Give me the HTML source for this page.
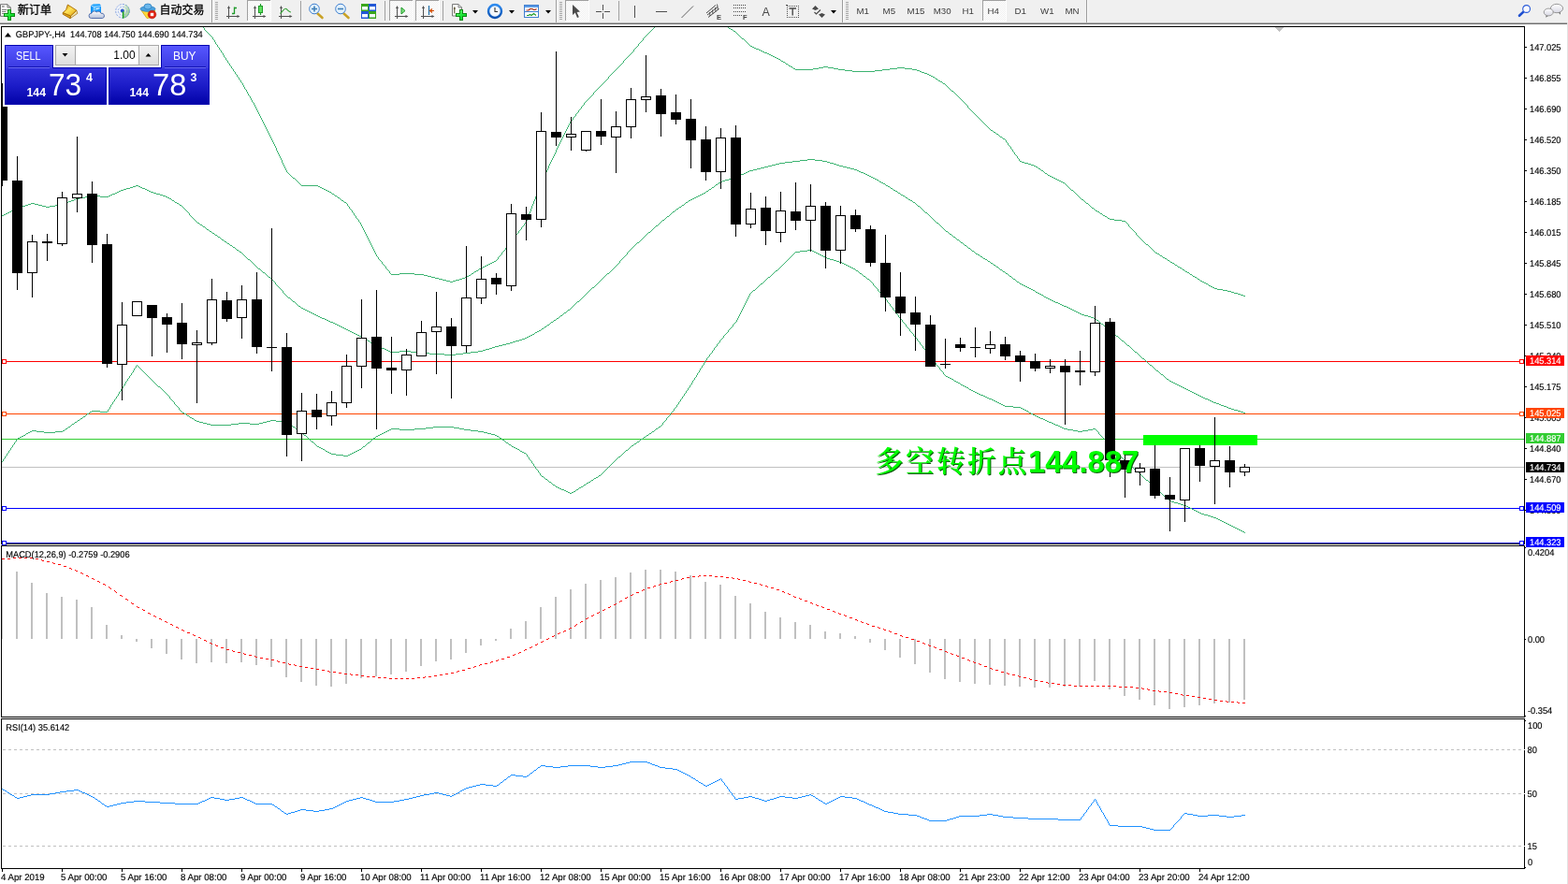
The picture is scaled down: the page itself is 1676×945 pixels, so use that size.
<!DOCTYPE html>
<html><head><meta charset="utf-8"><title>GBPJPY-,H4</title>
<style>
html,body{margin:0;padding:0;background:#fff;}
body{width:1676px;height:945px;position:relative;overflow:hidden;font-family:'Liberation Sans','Noto Sans CJK SC',sans-serif;}
#tb{position:absolute;left:0;top:0;width:1676px;height:24px;background:#f0f0f0;}
#tbl1{position:absolute;left:0;top:24px;width:1676px;height:1px;background:#b4b4b4;}
#tbl2{position:absolute;left:0;top:25px;width:1676px;height:1px;background:#6e6e6e;}

#tb svg{position:absolute;left:0;top:0;}
#tb .t{position:absolute;top:0;height:24px;line-height:22px;font-size:12px;color:#000;-webkit-text-stroke:0.3px #000;white-space:nowrap;font-family:'Liberation Sans','Noto Sans CJK SC',sans-serif;}
#tb .tf{position:absolute;top:0;height:24px;line-height:24.3px;font-size:9.7px;color:#3c3c3c;white-space:nowrap;font-family:'Liberation Sans',sans-serif;}

#tp{position:absolute;left:0;top:0;width:230px;height:114px;}
#tp div{position:absolute;box-sizing:border-box;}
#tp .tab{top:48px;height:25px;background:linear-gradient(#5656ff,#3a3ae0);border:1px solid #0404b0;border-bottom:none;}
#tp .big{top:72px;height:40px;background:linear-gradient(#3232dc,#1c1cc8 50%,#0202a8);border:1px solid #0404b0;border-top:none}
#tp .ul{top:71px;height:2px;background:linear-gradient(#1414b4 50%,#6a6af4 50%);}
#tp .w{color:#fff;white-space:nowrap;font-family:'Liberation Sans',sans-serif;line-height:1;transform-origin:0 0;}
#tp .btn{top:48px;height:22px;width:22px;background:linear-gradient(#f2f2f2,#dedede);border:1px solid #a8a8a8;}
#tp .inp{top:48px;height:22px;left:80px;width:69px;background:#fff;border-top:1px solid #a8a8a8;border-bottom:1px solid #a8a8a8;}

</style></head><body>
<div id="tb"><svg width="1676" height="24" viewBox="0 0 1676 24"><defs><pattern id="dz" width="2" height="2" patternUnits="userSpaceOnUse"><rect width="2" height="2" fill="#ffffff"/><rect width="1" height="1" fill="#f0f0f0"/><rect x="1" y="1" width="1" height="1" fill="#f0f0f0"/></pattern></defs><g shape-rendering="crispEdges"><rect x="226" y="0" width="1" height="24" fill="#9c9c9c"/><rect x="227" y="0" width="1" height="24" fill="#fcfcfc"/><rect x="230" y="2" width="3" height="1" fill="#a6a6a6"/><rect x="230" y="4" width="3" height="1" fill="#a6a6a6"/><rect x="230" y="6" width="3" height="1" fill="#a6a6a6"/><rect x="230" y="8" width="3" height="1" fill="#a6a6a6"/><rect x="230" y="10" width="3" height="1" fill="#a6a6a6"/><rect x="230" y="12" width="3" height="1" fill="#a6a6a6"/><rect x="230" y="14" width="3" height="1" fill="#a6a6a6"/><rect x="230" y="16" width="3" height="1" fill="#a6a6a6"/><rect x="230" y="18" width="3" height="1" fill="#a6a6a6"/><rect x="230" y="20" width="3" height="1" fill="#a6a6a6"/><rect x="321" y="1" width="1" height="21" fill="#a0a0a0"/><rect x="411" y="1" width="1" height="21" fill="#a0a0a0"/><rect x="473" y="1" width="1" height="21" fill="#a0a0a0"/><rect x="594" y="0" width="1" height="24" fill="#9c9c9c"/><rect x="595" y="0" width="1" height="24" fill="#fcfcfc"/><rect x="598" y="2" width="3" height="1" fill="#a6a6a6"/><rect x="598" y="4" width="3" height="1" fill="#a6a6a6"/><rect x="598" y="6" width="3" height="1" fill="#a6a6a6"/><rect x="598" y="8" width="3" height="1" fill="#a6a6a6"/><rect x="598" y="10" width="3" height="1" fill="#a6a6a6"/><rect x="598" y="12" width="3" height="1" fill="#a6a6a6"/><rect x="598" y="14" width="3" height="1" fill="#a6a6a6"/><rect x="598" y="16" width="3" height="1" fill="#a6a6a6"/><rect x="598" y="18" width="3" height="1" fill="#a6a6a6"/><rect x="598" y="20" width="3" height="1" fill="#a6a6a6"/><rect x="661" y="1" width="1" height="21" fill="#a0a0a0"/><rect x="900" y="0" width="1" height="24" fill="#9c9c9c"/><rect x="901" y="0" width="1" height="24" fill="#fcfcfc"/><rect x="904" y="2" width="3" height="1" fill="#a6a6a6"/><rect x="904" y="4" width="3" height="1" fill="#a6a6a6"/><rect x="904" y="6" width="3" height="1" fill="#a6a6a6"/><rect x="904" y="8" width="3" height="1" fill="#a6a6a6"/><rect x="904" y="10" width="3" height="1" fill="#a6a6a6"/><rect x="904" y="12" width="3" height="1" fill="#a6a6a6"/><rect x="904" y="14" width="3" height="1" fill="#a6a6a6"/><rect x="904" y="16" width="3" height="1" fill="#a6a6a6"/><rect x="904" y="18" width="3" height="1" fill="#a6a6a6"/><rect x="904" y="20" width="3" height="1" fill="#a6a6a6"/><rect x="1161" y="0" width="1" height="24" fill="#9c9c9c"/><rect x="1162" y="0" width="1" height="24" fill="#fcfcfc"/><rect x="264" y="0" width="25" height="22" fill="url(#dz)" shape-rendering="crispEdges"/><rect x="264" y="0" width="25" height="1" fill="#a0a0a0"/><rect x="264" y="0" width="1" height="22" fill="#a0a0a0"/><rect x="289" y="1" width="1" height="21" fill="#fff"/><rect x="264" y="22" width="26" height="1" fill="#fff"/><rect x="416" y="0" width="25" height="22" fill="url(#dz)" shape-rendering="crispEdges"/><rect x="416" y="0" width="25" height="1" fill="#a0a0a0"/><rect x="416" y="0" width="1" height="22" fill="#a0a0a0"/><rect x="441" y="1" width="1" height="21" fill="#fff"/><rect x="416" y="22" width="26" height="1" fill="#fff"/><rect x="444" y="0" width="25" height="22" fill="url(#dz)" shape-rendering="crispEdges"/><rect x="444" y="0" width="25" height="1" fill="#a0a0a0"/><rect x="444" y="0" width="1" height="22" fill="#a0a0a0"/><rect x="469" y="1" width="1" height="21" fill="#fff"/><rect x="444" y="22" width="26" height="1" fill="#fff"/><rect x="604" y="0" width="25" height="22" fill="url(#dz)" shape-rendering="crispEdges"/><rect x="604" y="0" width="25" height="1" fill="#a0a0a0"/><rect x="604" y="0" width="1" height="22" fill="#a0a0a0"/><rect x="629" y="1" width="1" height="21" fill="#fff"/><rect x="604" y="22" width="26" height="1" fill="#fff"/><rect x="1050" y="0" width="25" height="22" fill="url(#dz)" shape-rendering="crispEdges"/><rect x="1050" y="0" width="25" height="1" fill="#a0a0a0"/><rect x="1050" y="0" width="1" height="22" fill="#a0a0a0"/><rect x="1075" y="1" width="1" height="21" fill="#fff"/><rect x="1050" y="22" width="26" height="1" fill="#fff"/></g><defs><linearGradient id="gd" x1="0" y1="0" x2="1" y2="1"><stop offset="0" stop-color="#c98a00"/><stop offset="0.45" stop-color="#ffe35a"/><stop offset="1" stop-color="#e0a208"/></linearGradient><linearGradient id="bl" x1="0" y1="0" x2="1" y2="0"><stop offset="0" stop-color="#0a8cf0"/><stop offset="0.35" stop-color="#35b0ff"/><stop offset="1" stop-color="#0f96ff"/></linearGradient><linearGradient id="cl" x1="0" y1="0" x2="0" y2="1"><stop offset="0" stop-color="#ffffff"/><stop offset="1" stop-color="#b4c0da"/></linearGradient><linearGradient id="pg" x1="0" y1="0" x2="1" y2="1"><stop offset="0" stop-color="#8cff8c"/><stop offset="0.5" stop-color="#1fe83a"/><stop offset="1" stop-color="#00c81e"/></linearGradient><radialGradient id="ck"><stop offset="0" stop-color="#fff"/><stop offset="0.7" stop-color="#eef4fb"/><stop offset="1" stop-color="#c9dcf2"/></radialGradient></defs><path d="M0.5 4.700 H8 L11.300 8 V17.300 H0.500 Z" fill="#ffffff" stroke="#6e6e6e"/><path d="M8 4.700 V8 H11.300" fill="none" stroke="#6e6e6e"/><rect x="2" y="6.300" width="2.700" height="1.300" fill="#7a7a7a"/><path d="M2 10.500 H7.500 M2 12.500 H6.500 M2 14.500 H5" stroke="#808080" fill="none"/><path d="M8 10 h4 v4 h4 v4 h-4 v4 h-4 v-4 h-4 v-4 h4 z" fill="#0b8a14"/><path d="M9 11 h2 v4 h4 v2 h-4 v4 h-2 v-4 h-4 v-2 h4 z" fill="url(#pg)"/><path d="M75.500 17 L81.800 11.100 L82.900 14.300 L75 19.700 Z" fill="#efe2a8" stroke="#a87a20" stroke-width="0.8"/><path d="M67.200 13.500 L75.500 17 L75 19.700 L67.200 15.200 Z" fill="#e0a818" stroke="#9a6000" stroke-width="0.8"/><path d="M72.400 5 L81.800 11.100 L75.500 17 L67.200 13.500 L70.600 10.500 Z" fill="url(#gd)" stroke="#a86a00" stroke-width="0.9"/><path d="M97 6 L100 4.300 L106.500 4.300 L108 6 V14 H97 Z" fill="url(#bl)"/><path d="M97.300 6 L100.800 7.500 V14 M100.800 7.500 L108 6.500" stroke="#d6efff" stroke-width="0.8" fill="none"/><path d="M102.500 9.600 L106.500 8.700" stroke="#ffffff" stroke-width="1.1"/><path d="M97.500 19.500 A2.600 2.600 0 0 1 97.800 14.300 A3.200 3.200 0 0 1 103.200 12.900 A3 3 0 0 1 108 14.300 A2.700 2.700 0 0 1 109.500 19.500 Z" fill="url(#cl)" stroke="#4a66a6" stroke-width="0.9"/><defs><radialGradient id="sg" cx="0.3" cy="0.3" r="0.9"><stop offset="0" stop-color="#eaf4e6"/><stop offset="0.6" stop-color="#a9d7a3"/><stop offset="1" stop-color="#3ea24a"/></radialGradient></defs><circle cx="131" cy="11.800" r="7.600" fill="#eef2f8"/><path d="M131 11.800 L133.500 4.600 A7.600 7.600 0 0 1 131.400 19.400 Z" fill="url(#sg)"/><circle cx="131" cy="11.800" r="7.300" fill="none" stroke="#6f8fdc" stroke-width="0.9" stroke-dasharray="2.200 1.200" opacity="0.85"/><circle cx="131" cy="11.800" r="4.600" fill="none" stroke="#7a9ae0" stroke-width="0.9" stroke-dasharray="1.800 1.200" opacity="0.8"/><circle cx="130.800" cy="11.600" r="2" fill="#2a55c8"/><path d="M131.600 12.300 V19.600" stroke="#17a01c" stroke-width="1.500"/><path d="M151 11 L166 11 L160 19 L157 19.5 Z" fill="#ffd83a" stroke="#d6a50a" stroke-width="0.8"/><ellipse cx="158" cy="9.5" rx="8" ry="2.8" fill="#4aa3e0" stroke="#2a7fc0" stroke-width="0.8"/><ellipse cx="158" cy="7" rx="4" ry="3" fill="#6cb8ec" stroke="#2a7fc0" stroke-width="0.8"/><circle cx="162.500" cy="15.5" r="4.3" fill="#e02010" stroke="#b01000" stroke-width="0.6"/><rect x="160.800" y="13.8" width="3.4" height="3.4" fill="#fff"/><g shape-rendering="crispEdges" fill="#505050"><rect x="244" y="7" width="1" height="13"/><rect x="242" y="17" width="13" height="1"/></g><path d="M243.0 9 l1.500 -3 l1.500 3 z M253.5 16 l3 1.500 l-3 1.500 z" fill="#505050"/><path d="M250.500 7.500 V15 M250.500 8.500 H253 M248 14.500 H250.500" stroke="#1f9a2a" stroke-width="1.3" fill="none"/><g shape-rendering="crispEdges" fill="#505050"><rect x="272" y="7" width="1" height="13"/><rect x="270" y="17" width="13" height="1"/></g><path d="M271.0 9 l1.500 -3 l1.500 3 z M281.5 16 l3 1.500 l-3 1.500 z" fill="#505050"/><path d="M278.500 4 V16" stroke="#1f9a2a" stroke-width="1.2"/><rect x="276.500" y="6.500" width="4" height="7" fill="#5fe05f" stroke="#1f9a2a"/><g shape-rendering="crispEdges" fill="#505050"><rect x="300" y="7" width="1" height="13"/><rect x="298" y="17" width="13" height="1"/></g><path d="M299.0 9 l1.500 -3 l1.500 3 z M309.5 16 l3 1.500 l-3 1.500 z" fill="#505050"/><path d="M299.500 14.500 C303 11, 304 8, 306 9.500 S309 13, 311 13" stroke="#3aa53a" stroke-width="1.2" fill="none"/><path d="M339.5 14.500 L344.5 19" stroke="#c9a227" stroke-width="2.6" stroke-linecap="round"/><circle cx="336.0" cy="9.500" r="5.300" fill="#e4f2fc" stroke="#3f7fd0" stroke-width="1"/><path d="M333.0 9.500 h6" stroke="#3f7fb8" stroke-width="1.600"/><path d="M336.0 6.500 v6" stroke="#3f7fb8" stroke-width="1.600"/><path d="M367.5 14.500 L372.5 19" stroke="#c9a227" stroke-width="2.6" stroke-linecap="round"/><circle cx="364.0" cy="9.500" r="5.300" fill="#e4f2fc" stroke="#3f7fd0" stroke-width="1"/><path d="M361.0 9.500 h6" stroke="#3f7fb8" stroke-width="1.600"/><rect x="386" y="4" width="8" height="8" fill="#3aa61c"/><rect x="387" y="7" width="6" height="3.500" fill="#f4f8ff"/><rect x="394" y="4" width="8" height="8" fill="#2257d6"/><rect x="395" y="7" width="6" height="3.500" fill="#f4f8ff"/><rect x="386" y="12" width="8" height="8" fill="#2257d6"/><rect x="387" y="15" width="6" height="3.500" fill="#f4f8ff"/><rect x="394" y="12" width="8" height="8" fill="#3aa61c"/><rect x="395" y="15" width="6" height="3.500" fill="#f4f8ff"/><g shape-rendering="crispEdges" fill="#505050"><rect x="424" y="7" width="1" height="13"/><rect x="422" y="17" width="13" height="1"/></g><path d="M423.0 9 l1.500 -3 l1.500 3 z M433.5 16 l3 1.500 l-3 1.500 z" fill="#505050"/><path d="M429 8 L433 11.500 L429 15 Z" fill="#7fe07f" stroke="#1f9a2a" stroke-width="1"/><g shape-rendering="crispEdges" fill="#505050"><rect x="452" y="7" width="1" height="13"/><rect x="450" y="17" width="13" height="1"/></g><path d="M451.0 9 l1.500 -3 l1.500 3 z M461.5 16 l3 1.500 l-3 1.500 z" fill="#505050"/><path d="M458.500 6 V16" stroke="#1f6fa8" stroke-width="1.2"/><path d="M464 11.500 H460 M462 9.500 L459.500 11.500 L462 13.500" stroke="#d04a00" stroke-width="1.2" fill="none"/><path d="M483.500 4.500 H490 L493.500 8 V17 H483.500 Z" fill="#ffffff" stroke="#7a7a7a"/><path d="M490 4.500 V8 H493.500" fill="none" stroke="#7a7a7a"/><path d="M485.800 7.500 v7 M484.800 9 h2" stroke="#4a4220" stroke-width="1"/><path d="M491 10 h4 v4 h4 v4 h-4 v4 h-4 v-4 h-4 v-4 h4 z" fill="#0b8a14"/><path d="M492 11 h2 v4 h4 v2 h-4 v4 h-2 v-4 h-4 v-2 h4 z" fill="url(#pg)"/><path d="M505 11 h6 l-3 3.5 z" fill="#000"/><defs><linearGradient id="cr" x1="0" y1="0" x2="0" y2="1"><stop offset="0" stop-color="#2f8cf0"/><stop offset="1" stop-color="#0a4fb0"/></linearGradient></defs><circle cx="529" cy="12" r="7" fill="url(#ck)" stroke="url(#cr)" stroke-width="2.400"/><path d="M529 8 V12.500 H532" stroke="#333" stroke-width="1.1" fill="none"/><path d="M544 11 h6 l-3 3.5 z" fill="#000"/><rect x="560.500" y="5.500" width="15" height="13" fill="#fff" stroke="#3f7fd0"/><rect x="561" y="6" width="14" height="2" fill="#5b9ae6"/><path d="M561 12.500 H575" stroke="#3f7fd0"/><path d="M562.500 11 H565 L566.500 9.500 H569 L570.500 10.500 H572 L573.500 9.500" stroke="#a82a10" stroke-width="1.2" fill="none"/><path d="M563 16.500 H565 L566.500 15.500 L568 16.500 L570.500 14.500 L573 16.500" stroke="#1f9a2a" stroke-width="1.2" fill="none"/><path d="M583 11 h6 l-3 3.5 z" fill="#000"/><path d="M612 5 L612 16 L614.800 13.600 L617 19 L618.800 18.200 L616.600 13 L620 12.600 Z" fill="#4a4a4a"/><g shape-rendering="crispEdges" fill="#505050"><rect x="644" y="5" width="1" height="6"/><rect x="644" y="14" width="1" height="6"/><rect x="637" y="12" width="6" height="1"/><rect x="646" y="12" width="6" height="1"/><rect x="644" y="12" width="1" height="1" fill="#a0a0a0"/><rect x="678" y="6" width="1" height="13"/><rect x="701" y="12" width="12" height="1"/></g><path d="M728.500 19 L741 6.500" stroke="#505050" stroke-width="0.9"/><path d="M755 14 L765 5.500 M757 18.500 L768.500 9.500 M756 16 L767 7.500" stroke="#4a4a4a" stroke-width="1"/><path d="M758.500 13 L759 17 M761.500 10.500 L762 15 M764.500 8 L765 12.500 M766.500 4.500 L767.500 10.500" stroke="#4a4a4a" stroke-width="0.9"/><path d="M784 5.5 H797" stroke="#4a4a4a" stroke-width="1" stroke-dasharray="1 1"/><path d="M784 8.5 H797" stroke="#4a4a4a" stroke-width="1" stroke-dasharray="1 1"/><path d="M784 12.5 H797" stroke="#4a4a4a" stroke-width="1" stroke-dasharray="1 1"/><path d="M784 16.5 H793" stroke="#4a4a4a" stroke-width="1" stroke-dasharray="1 1"/><g shape-rendering="crispEdges" fill="#505050"><rect x="841" y="6" width="1" height="1"/><rect x="841" y="18" width="1" height="1"/><rect x="843" y="6" width="1" height="1"/><rect x="843" y="18" width="1" height="1"/><rect x="845" y="6" width="1" height="1"/><rect x="845" y="18" width="1" height="1"/><rect x="847" y="6" width="1" height="1"/><rect x="847" y="18" width="1" height="1"/><rect x="849" y="6" width="1" height="1"/><rect x="849" y="18" width="1" height="1"/><rect x="851" y="6" width="1" height="1"/><rect x="851" y="18" width="1" height="1"/><rect x="853" y="6" width="1" height="1"/><rect x="853" y="18" width="1" height="1"/><rect x="841" y="8" width="1" height="1"/><rect x="853" y="8" width="1" height="1"/><rect x="841" y="10" width="1" height="1"/><rect x="853" y="10" width="1" height="1"/><rect x="841" y="12" width="1" height="1"/><rect x="853" y="12" width="1" height="1"/><rect x="841" y="14" width="1" height="1"/><rect x="853" y="14" width="1" height="1"/><rect x="841" y="16" width="1" height="1"/><rect x="853" y="16" width="1" height="1"/><rect x="840" y="5" width="2" height="1"/></g><path d="M843.500 9 H851 M847.200 9 V16.500" stroke="#4a4a4a" stroke-width="1.4" fill="none"/><path d="M868 9.500 L871.500 6 L875 9.500 L871.500 11 Z M875 15.500 L878.500 19 L882 15.500 L878.500 14 Z" fill="#4a4a4a"/><path d="M870.500 13 L872.500 15 L877 10.500" stroke="#4a4a4a" stroke-width="1.2" fill="none"/><path d="M888 11 h6 l-3 3.5 z" fill="#000"/><path d="M1628.400 12.600 L1624 16.800" stroke="#1f4fd0" stroke-width="2.600" stroke-linecap="round"/><circle cx="1631.600" cy="9.500" r="3.900" fill="#f8f9ff" stroke="#2a5ad8" stroke-width="1.100"/><defs><linearGradient id="cb" x1="0" y1="0" x2="0" y2="1"><stop offset="0" stop-color="#ffffff"/><stop offset="1" stop-color="#d8d8e4"/></linearGradient></defs><path d="M1665.500 13.300 L1668 15.800 L1667.800 12.800 Z" fill="#6a6a6a"/><ellipse cx="1664" cy="9" rx="6.600" ry="4.700" fill="url(#cb)" stroke="#8e8e8e" stroke-width="0.9"/><path d="M1652.600 16.200 L1652.300 18.700 L1654.800 17" fill="#6a6a6a"/><ellipse cx="1655.200" cy="13" rx="5" ry="3.900" fill="url(#cb)" stroke="#8e8e8e" stroke-width="0.9"/><text x="766" y="21" font-size="7.5" font-weight="bold" fill="#444" style="font-family:'Liberation Sans',sans-serif">E</text><text x="794" y="21" font-size="7.5" font-weight="bold" fill="#444" style="font-family:'Liberation Sans',sans-serif">F</text><text x="814.5" y="17" font-size="12.5" fill="#4a4a4a" style="font-family:'Liberation Sans',sans-serif">A</text></svg><div class="t" style="left:19px">新订单</div><div class="t" style="left:170.5px">自动交易</div><div class="tf" style="left:915.5px">M1</div><div class="tf" style="left:943.6px">M5</div><div class="tf" style="left:969.6px">M15</div><div class="tf" style="left:997.7px">M30</div><div class="tf" style="left:1028.5px">H1</div><div class="tf" style="left:1055.5px">H4</div><div class="tf" style="left:1084.5px">D1</div><div class="tf" style="left:1112.0px">W1</div><div class="tf" style="left:1138.5px">MN</div></div><div id="tbl1"></div><div id="tbl2"></div>
<svg width="1676" height="945" viewBox="0 0 1676 945" style="position:absolute;left:0;top:0"><defs><clipPath id="cm"><rect x="2" y="29" width="1627" height="552"/></clipPath><clipPath id="cmacd"><rect x="2" y="584" width="1627" height="182"/></clipPath><clipPath id="crsi"><rect x="2" y="769" width="1627" height="159"/></clipPath></defs>
<g clip-path="url(#cm)" shape-rendering="crispEdges">
<rect x="2" y="499" width="1627" height="1" fill="#c0c0c0"/>
</g><g clip-path="url(#cm)" shape-rendering="crispEdges">
<rect x="2" y="386" width="1627" height="1" fill="#ff0000"/>
<rect x="2" y="442" width="1627" height="1" fill="#ff4500"/>
<rect x="2" y="469" width="1627" height="1" fill="#32cd32"/>
<rect x="2" y="543" width="1627" height="1" fill="#0000ff"/>
<rect x="2" y="580" width="1627" height="1" fill="#0000ff"/>
<rect x="1222" y="465" width="122" height="11" fill="#00ff00"/>
</g><g clip-path="url(#cm)" shape-rendering="crispEdges">
<path fill="none" stroke="#3cb371" stroke-width="1" d="M313 190.5h2M322 198.5h18M340 199.5h2M342 200.5h2M344 201.5h2M346 202.5h2M348 203.5h2M350 204.5h2M352 205.5h2M355 207.5h2M358 209.5h2M361 211.5h2M365 214.5h2M368 216.5h2M418 293.5h9M427 292.5h16M443 293.5h10M453 294.5h4M457 295.5h4M461 296.5h4M465 297.5h4M469 298.5h4M473 299.5h4M477 300.5h4M481 301.5h3M484 300.5h3M487 299.5h4M491 298.5h3M494 297.5h3M497 296.5h2M499 295.5h2M501 294.5h2M504 292.5h2M507 290.5h2M509 289.5h2M512 287.5h2M514 286.5h2M516 285.5h2M518 284.5h2M520 283.5h2M522 282.5h2M524 281.5h2M526 280.5h2M528 279.5h2M217.5 29v1M218.5 30v2M219.5 32v1M220.5 33v1M221.5 34v1M222.5 35v1M223.5 36v1M224.5 37v1M225.5 38v1M226.5 39v1M227.5 40v2M228.5 42v1M229.5 43v2M230.5 45v2M231.5 47v1M232.5 48v2M233.5 50v1M234.5 51v2M235.5 53v1M236.5 54v2M237.5 56v1M238.5 57v2M239.5 59v2M240.5 61v1M241.5 62v2M242.5 64v1M243.5 65v2M244.5 67v1M245.5 68v2M246.5 70v1M247.5 71v2M248.5 73v1M249.5 74v2M250.5 76v1M251.5 77v2M252.5 79v1M253.5 80v2M254.5 82v1M255.5 83v2M256.5 85v1M257.5 86v2M258.5 88v1M259.5 89v2M260.5 91v2M261.5 93v2M262.5 95v1M263.5 96v2M264.5 98v2M265.5 100v2M266.5 102v1M267.5 103v2M268.5 105v2M269.5 107v2M270.5 109v1M271.5 110v2M272.5 112v2M273.5 114v2M274.5 116v2M275.5 118v2M276.5 120v2M277.5 122v2M278.5 124v2M279.5 126v2M280.5 128v2M281.5 130v2M282.5 132v2M283.5 134v2M284.5 136v2M285.5 138v2M286.5 140v2M287.5 142v2M288.5 144v2M289.5 146v2M290.5 148v2M291.5 150v2M292.5 152v2M293.5 154v2M294.5 156v2M295.5 158v3M296.5 161v2M297.5 163v2M298.5 165v2M299.5 167v2M300.5 169v2M301.5 171v3M302.5 174v2M303.5 176v2M304.5 178v2M305.5 180v2M306.5 182v2M307.5 184v1M308.5 185v1M309.5 186v1M310.5 187v1M311.5 188v1M312.5 189v1M315.5 191v1M316.5 192v1M317.5 193v1M318.5 194v1M319.5 195v1M320.5 196v1M321.5 197v1M354.5 206v1M357.5 208v1M360.5 210v1M363.5 212v1M364.5 213v1M367.5 215v1M370.5 217v1M371.5 218v2M372.5 220v1M373.5 221v2M374.5 223v1M375.5 224v1M376.5 225v2M377.5 227v1M378.5 228v2M379.5 230v1M380.5 231v2M381.5 233v1M382.5 234v1M383.5 235v2M384.5 237v1M385.5 238v2M386.5 240v2M387.5 242v2M388.5 244v2M389.5 246v2M390.5 248v2M391.5 250v2M392.5 252v2M393.5 254v2M394.5 256v2M395.5 258v2M396.5 260v2M397.5 262v2M398.5 264v2M399.5 266v2M400.5 268v2M401.5 270v2M402.5 272v2M403.5 274v1M404.5 275v2M405.5 277v1M406.5 278v1M407.5 279v1M408.5 280v2M409.5 282v1M410.5 283v1M411.5 284v1M412.5 285v2M413.5 287v1M414.5 288v1M415.5 289v1M416.5 290v2M417.5 292v1M503.5 293v1M506.5 291v1M511.5 288v1M530.5 278v1M531.5 277v1M532.5 275v2M533.5 274v1M534.5 273v1M535.5 272v1M536.5 270v2M537.5 269v1M538.5 268v1M539.5 267v1M540.5 265v2M541.5 264v1M542.5 263v1M543.5 262v1M544.5 260v2M545.5 259v1M546.5 258v1M547.5 257v1M548.5 255v2M549.5 254v1M550.5 253v1M551.5 251v2M552.5 250v1M553.5 249v1M554.5 247v2M555.5 246v1M556.5 245v1M557.5 243v2M558.5 242v1M559.5 241v1M560.5 239v2M561.5 238v1M562.5 236v2M563.5 234v2M564.5 231v3M565.5 228v3M566.5 226v2M567.5 223v3M568.5 220v3M569.5 218v2M570.5 215v3M571.5 213v2M572.5 210v3M573.5 207v3M574.5 205v2M575.5 202v3M576.5 199v3M577.5 197v2M578.5 194v3M579.5 192v2M580.5 190v2M581.5 188v2M582.5 186v2M583.5 184v2M584.5 182v2M585.5 180v2M586.5 177v3M587.5 175v2M588.5 173v2M589.5 171v2M590.5 169v2M591.5 167v2M592.5 165v2M593.5 163v2M594.5 160v3M595.5 158v2M596.5 156v2M597.5 154v2M598.5 152v2M599.5 150v2M600.5 148v2M601.5 146v2M602.5 144v2M603.5 142v2M604.5 140v2M605.5 138v2M606.5 136v2M607.5 134v2M608.5 132v2M609.5 130v2M610.5 129v1M611.5 128v1M612.5 126v2M613.5 125v1M614.5 124v1M615.5 122v2M616.5 121v1M617.5 120v1M618.5 118v2M619.5 117v1M620.5 116v1M621.5 114v2M622.5 113v1M623.5 112v1M624.5 110v2M625.5 109v1M626.5 108v1M627.5 107v1M628.5 106v1M629.5 105v1M630.5 104v1M631.5 103v1M632.5 102v1M633.5 101v1M634.5 99v2M635.5 98v1M636.5 97v1M637.5 96v1M638.5 95v1M639.5 94v1M640.5 93v1M641.5 92v1M642.5 91v1M643.5 90v1M644.5 89v1M645.5 88v1M646.5 87v1M647.5 86v1M648.5 85v1M649.5 84v1M650.5 82v2M651.5 81v1M652.5 80v1M653.5 79v1M654.5 78v1M655.5 77v1M656.5 76v1M657.5 75v1M658.5 74v1M659.5 73v1M660.5 72v1M661.5 71v1M662.5 70v1M663.5 69v1M664.5 68v1M665.5 67v1M666.5 65v2M667.5 64v1M668.5 63v1M669.5 62v1M670.5 61v1M671.5 60v1M672.5 59v1M673.5 58v1M674.5 57v1M675.5 56v1M676.5 55v1M677.5 53v2M678.5 52v1M679.5 51v1M680.5 50v1M681.5 49v1M682.5 47v2M683.5 46v1M684.5 45v1M685.5 44v1M686.5 43v1M687.5 41v2M688.5 40v1M689.5 39v1M690.5 38v1M691.5 37v1M692.5 36v1M693.5 35v1M694.5 34v1M695.5 33v1M696.5 32v1M697.5 31v1M698.5 30v1M699.5 29v1"/>
<path fill="none" stroke="#3cb371" stroke-width="1" d="M779 30.5h2M781 31.5h2M784 33.5h2M793 41.5h2M802 49.5h2M804 50.5h2M806 51.5h2M808 52.5h3M811 53.5h2M813 54.5h2M815 55.5h2M817 56.5h3M820 57.5h2M822 58.5h2M824 59.5h2M826 60.5h2M828 61.5h2M830 62.5h2M832 63.5h2M835 65.5h2M837 66.5h2M840 68.5h2M843 70.5h2M845 71.5h2M848 73.5h2M850 74.5h19M869 73.5h6M875 72.5h5M880 71.5h5M885 72.5h6M891 73.5h5M896 74.5h7M903 75.5h8M911 76.5h24M935 75.5h8M943 74.5h8M951 73.5h8M959 72.5h8M967 73.5h8M975 74.5h5M980 75.5h3M983 76.5h2M985 77.5h3M988 78.5h3M991 79.5h2M993 80.5h2M995 81.5h2M997 82.5h2M1000 84.5h2M1003 86.5h2M1005 87.5h2M1008 89.5h2M1017 97.5h2M1059 139.5h2M1062 141.5h2M1065 143.5h2M1069 146.5h2M1072 148.5h2M1090 172.5h2M1092 173.5h3M1095 174.5h4M1099 175.5h3M1102 176.5h3M1105 177.5h2M1107 178.5h2M1110 180.5h2M1113 182.5h2M1117 185.5h2M1120 187.5h2M1122 188.5h2M1124 189.5h2M1126 190.5h2M1128 191.5h2M1130 192.5h2M1132 193.5h2M1134 194.5h2M1136 195.5h2M1145 203.5h2M1156 213.5h2M1161 217.5h2M1167 222.5h2M1171 225.5h2M1173 226.5h2M1176 228.5h2M1179 230.5h2M1181 231.5h2M1184 233.5h2M1186 234.5h5M1191 235.5h8M1199 236.5h4M1225 261.5h2M1235 270.5h2M1237 271.5h2M1240 273.5h2M1243 275.5h2M1245 276.5h2M1248 278.5h2M1251 280.5h2M1253 281.5h2M1256 283.5h2M1259 285.5h2M1261 286.5h2M1264 288.5h2M1267 290.5h2M1269 291.5h2M1272 293.5h2M1275 295.5h2M1277 296.5h2M1280 298.5h2M1283 300.5h2M1285 301.5h2M1287 302.5h2M1289 303.5h2M1292 305.5h2M1294 306.5h2M1296 307.5h2M1298 308.5h3M1301 309.5h6M1307 310.5h5M1312 311.5h4M1316 312.5h3M1319 313.5h4M1323 314.5h3M1326 315.5h3M1329 316.5h2M778.5 29v1M783.5 32v1M786.5 34v1M787.5 35v1M788.5 36v1M789.5 37v1M790.5 38v1M791.5 39v1M792.5 40v1M795.5 42v1M796.5 43v1M797.5 44v1M798.5 45v1M799.5 46v1M800.5 47v1M801.5 48v1M834.5 64v1M839.5 67v1M842.5 69v1M847.5 72v1M999.5 83v1M1002.5 85v1M1007.5 88v1M1010.5 90v1M1011.5 91v1M1012.5 92v1M1013.5 93v1M1014.5 94v1M1015.5 95v1M1016.5 96v1M1019.5 98v1M1020.5 99v1M1021.5 100v1M1022.5 101v1M1023.5 102v1M1024.5 103v1M1025.5 104v1M1026.5 105v1M1027.5 106v1M1028.5 107v1M1029.5 108v1M1030.5 109v1M1031.5 110v1M1032.5 111v1M1033.5 112v1M1034.5 113v2M1035.5 115v1M1036.5 116v1M1037.5 117v1M1038.5 118v1M1039.5 119v1M1040.5 120v1M1041.5 121v1M1042.5 122v1M1043.5 123v1M1044.5 124v1M1045.5 125v1M1046.5 126v1M1047.5 127v1M1048.5 128v1M1049.5 129v1M1050.5 130v1M1051.5 131v1M1052.5 132v1M1053.5 133v1M1054.5 134v1M1055.5 135v1M1056.5 136v1M1057.5 137v1M1058.5 138v1M1061.5 140v1M1064.5 142v1M1067.5 144v1M1068.5 145v1M1071.5 147v1M1074.5 149v1M1075.5 150v2M1076.5 152v1M1077.5 153v2M1078.5 155v1M1079.5 156v1M1080.5 157v2M1081.5 159v1M1082.5 160v2M1083.5 162v1M1084.5 163v2M1085.5 165v1M1086.5 166v1M1087.5 167v2M1088.5 169v1M1089.5 170v2M1109.5 179v1M1112.5 181v1M1115.5 183v1M1116.5 184v1M1119.5 186v1M1138.5 196v1M1139.5 197v1M1140.5 198v1M1141.5 199v1M1142.5 200v1M1143.5 201v1M1144.5 202v1M1147.5 204v1M1148.5 205v1M1149.5 206v1M1150.5 207v1M1151.5 208v1M1152.5 209v1M1153.5 210v1M1154.5 211v1M1155.5 212v1M1158.5 214v1M1159.5 215v1M1160.5 216v1M1163.5 218v1M1164.5 219v1M1165.5 220v1M1166.5 221v1M1169.5 223v1M1170.5 224v1M1175.5 227v1M1178.5 229v1M1183.5 232v1M1203.5 237v1M1204.5 238v1M1205.5 239v1M1206.5 240v2M1207.5 242v1M1208.5 243v1M1209.5 244v1M1210.5 245v1M1211.5 246v1M1212.5 247v1M1213.5 248v1M1214.5 249v2M1215.5 251v1M1216.5 252v1M1217.5 253v1M1218.5 254v1M1219.5 255v1M1220.5 256v1M1221.5 257v1M1222.5 258v1M1223.5 259v1M1224.5 260v1M1227.5 262v1M1228.5 263v1M1229.5 264v1M1230.5 265v1M1231.5 266v1M1232.5 267v1M1233.5 268v1M1234.5 269v1M1239.5 272v1M1242.5 274v1M1247.5 277v1M1250.5 279v1M1255.5 282v1M1258.5 284v1M1263.5 287v1M1266.5 289v1M1271.5 292v1M1274.5 294v1M1279.5 297v1M1282.5 299v1M1291.5 304v1"/>
<path fill="none" stroke="#3cb371" stroke-width="1" d="M2 230.5h2M4 229.5h2M6 228.5h2M8 227.5h2M10 226.5h2M12 225.5h2M14 224.5h2M16 223.5h2M18 222.5h2M20 221.5h3M23 220.5h4M27 219.5h3M30 218.5h3M33 217.5h4M37 218.5h4M41 219.5h4M45 220.5h4M49 221.5h4M53 220.5h6M59 219.5h5M64 218.5h4M68 217.5h3M71 216.5h2M73 215.5h3M76 214.5h3M79 213.5h2M81 212.5h4M85 211.5h6M91 210.5h5M96 209.5h11M107 210.5h9M116 209.5h2M118 208.5h2M120 207.5h3M123 206.5h2M125 205.5h2M127 204.5h2M129 203.5h3M132 202.5h3M135 201.5h4M139 200.5h3M142 199.5h3M145 198.5h3M148 199.5h2M150 200.5h2M152 201.5h3M155 202.5h2M157 203.5h2M159 204.5h2M161 205.5h3M164 206.5h3M167 207.5h4M171 208.5h3M174 209.5h3M177 210.5h2M179 211.5h2M181 212.5h2M184 214.5h2M187 216.5h2M189 217.5h2M192 219.5h2M211 238.5h2M214 240.5h2M217 242.5h2M221 245.5h2M224 247.5h2M227 249.5h2M230 251.5h2M233 253.5h2M237 256.5h2M240 258.5h2M243 260.5h2M246 262.5h2M249 264.5h2M253 267.5h2M256 269.5h2M265 277.5h2M276 287.5h2M281 291.5h2M287 296.5h2M308 318.5h2M313 322.5h2M319 327.5h2M322 329.5h2M324 330.5h2M326 331.5h2M328 332.5h2M330 333.5h2M332 334.5h2M334 335.5h2M336 336.5h2M338 337.5h2M340 338.5h2M342 339.5h2M344 340.5h3M347 341.5h2M349 342.5h2M351 343.5h2M353 344.5h3M356 345.5h2M358 346.5h2M360 347.5h2M362 348.5h2M364 349.5h2M366 350.5h2M368 351.5h2M370 352.5h2M372 353.5h2M374 354.5h2M376 355.5h2M378 356.5h2M380 357.5h2M382 358.5h2M384 359.5h2M387 361.5h2M389 362.5h2M391 363.5h2M393 364.5h2M396 366.5h2M398 367.5h2M400 368.5h2M402 369.5h2M404 370.5h2M406 371.5h2M408 372.5h3M411 373.5h2M413 374.5h2M415 375.5h2M417 376.5h10M427 375.5h12M439 376.5h8M447 377.5h12M459 378.5h16M475 379.5h12M487 378.5h8M495 377.5h8M503 376.5h8M511 375.5h5M516 374.5h3M519 373.5h4M523 372.5h3M526 371.5h3M529 370.5h4M533 369.5h4M537 368.5h4M541 367.5h4M545 366.5h3M548 365.5h3M551 364.5h4M555 363.5h3M558 362.5h3M561 361.5h2M563 360.5h2M565 359.5h2M567 358.5h2M569 357.5h2M572 355.5h2M574 354.5h2M576 353.5h2M579 351.5h2M582 349.5h2M585 347.5h2M589 344.5h2M592 342.5h2M595 340.5h2M599 337.5h2M603 334.5h2M607 331.5h2M617 322.5h2M633 307.5h2M649 292.5h2M681 259.5h2M693 248.5h2M701 241.5h2M708 235.5h2M713 231.5h2M719 226.5h2M723 223.5h2M726 221.5h2M729 219.5h2M733 216.5h2M736 214.5h2M738 213.5h2M740 212.5h2M742 211.5h2M744 210.5h2M746 209.5h2M748 208.5h2M750 207.5h2M752 206.5h2M755 204.5h2M758 202.5h2M761 200.5h2M765 197.5h2M768 195.5h2M770 194.5h2M772 193.5h3M775 192.5h4M779 191.5h3M782 190.5h3M785 189.5h3M788 188.5h2M790 187.5h2M792 186.5h3M795 185.5h2M797 184.5h2M799 183.5h2M801 182.5h4M805 181.5h4M809 180.5h4M813 179.5h4M817 178.5h4M821 177.5h4M825 176.5h4M829 175.5h4M833 174.5h6M839 173.5h8M847 172.5h8M855 171.5h8M863 170.5h8M871 171.5h8M879 172.5h5M884 173.5h3M887 174.5h4M891 175.5h3M894 176.5h3M897 177.5h4M901 178.5h4M905 179.5h4M909 180.5h4M913 181.5h3M916 182.5h2M918 183.5h2M920 184.5h3M923 185.5h2M925 186.5h2M927 187.5h2M929 188.5h2M931 189.5h2M933 190.5h2M935 191.5h2M937 192.5h2M940 194.5h2M942 195.5h2M944 196.5h2M947 198.5h2M949 199.5h2M952 201.5h2M955 203.5h2M957 204.5h2M960 206.5h2M963 208.5h2M965 209.5h2M968 211.5h2M971 213.5h2M973 214.5h2M976 216.5h2M981 220.5h2M989 227.5h2M1001 238.5h2M1011 247.5h2M1015 250.5h2M1019 253.5h2M1023 256.5h2M1027 259.5h2M1031 262.5h2M1035 265.5h2M1039 268.5h2M1043 271.5h2M1045 272.5h2M1048 274.5h2M1051 276.5h2M1053 277.5h2M1056 279.5h2M1059 281.5h2M1062 283.5h2M1065 285.5h2M1069 288.5h2M1072 290.5h2M1075 292.5h2M1079 295.5h2M1083 298.5h2M1087 301.5h2M1090 303.5h2M1092 304.5h2M1094 305.5h2M1096 306.5h2M1098 307.5h2M1100 308.5h2M1102 309.5h2M1104 310.5h2M1107 312.5h2M1109 313.5h2M1111 314.5h2M1113 315.5h2M1116 317.5h2M1118 318.5h2M1120 319.5h2M1122 320.5h2M1124 321.5h2M1126 322.5h2M1128 323.5h3M1131 324.5h2M1133 325.5h2M1135 326.5h2M1137 327.5h3M1140 328.5h2M1142 329.5h2M1144 330.5h2M1146 331.5h2M1148 332.5h2M1150 333.5h2M1152 334.5h2M1154 335.5h2M1156 336.5h3M1159 337.5h4M1163 338.5h3M1166 339.5h3M1169 340.5h2M1172 342.5h2M1177 346.5h2M1183 351.5h2M1188 355.5h2M1193 359.5h2M1199 364.5h2M1205 369.5h2M1213 376.5h2M1221 383.5h2M1229 390.5h2M1236 396.5h2M1241 400.5h2M1247 405.5h2M1250 407.5h2M1252 408.5h2M1254 409.5h2M1256 410.5h2M1258 411.5h2M1260 412.5h2M1262 413.5h2M1264 414.5h2M1266 415.5h2M1268 416.5h2M1270 417.5h2M1272 418.5h2M1274 419.5h2M1276 420.5h2M1278 421.5h2M1280 422.5h2M1282 423.5h2M1284 424.5h2M1286 425.5h2M1288 426.5h3M1291 427.5h2M1293 428.5h2M1295 429.5h2M1297 430.5h3M1300 431.5h3M1303 432.5h2M1305 433.5h3M1308 434.5h3M1311 435.5h2M1313 436.5h3M1316 437.5h3M1319 438.5h4M1323 439.5h3M1326 440.5h3M1329 441.5h2M183.5 213v1M186.5 215v1M191.5 218v1M194.5 220v1M195.5 221v1M196.5 222v1M197.5 223v1M198.5 224v1M199.5 225v1M200.5 226v1M201.5 227v1M202.5 228v2M203.5 230v1M204.5 231v1M205.5 232v1M206.5 233v1M207.5 234v1M208.5 235v1M209.5 236v1M210.5 237v1M213.5 239v1M216.5 241v1M219.5 243v1M220.5 244v1M223.5 246v1M226.5 248v1M229.5 250v1M232.5 252v1M235.5 254v1M236.5 255v1M239.5 257v1M242.5 259v1M245.5 261v1M248.5 263v1M251.5 265v1M252.5 266v1M255.5 268v1M258.5 270v1M259.5 271v1M260.5 272v1M261.5 273v1M262.5 274v1M263.5 275v1M264.5 276v1M267.5 278v1M268.5 279v1M269.5 280v1M270.5 281v1M271.5 282v1M272.5 283v1M273.5 284v1M274.5 285v1M275.5 286v1M278.5 288v1M279.5 289v1M280.5 290v1M283.5 292v1M284.5 293v1M285.5 294v1M286.5 295v1M289.5 297v1M290.5 298v1M291.5 299v1M292.5 300v1M293.5 301v1M294.5 302v2M295.5 304v1M296.5 305v1M297.5 306v1M298.5 307v1M299.5 308v1M300.5 309v1M301.5 310v1M302.5 311v2M303.5 313v1M304.5 314v1M305.5 315v1M306.5 316v1M307.5 317v1M310.5 319v1M311.5 320v1M312.5 321v1M315.5 323v1M316.5 324v1M317.5 325v1M318.5 326v1M321.5 328v1M386.5 360v1M395.5 365v1M571.5 356v1M578.5 352v1M581.5 350v1M584.5 348v1M587.5 346v1M588.5 345v1M591.5 343v1M594.5 341v1M597.5 339v1M598.5 338v1M601.5 336v1M602.5 335v1M605.5 333v1M606.5 332v1M609.5 330v1M610.5 329v1M611.5 328v1M612.5 327v1M613.5 326v1M614.5 325v1M615.5 324v1M616.5 323v1M619.5 321v1M620.5 320v1M621.5 319v1M622.5 318v1M623.5 317v1M624.5 316v1M625.5 315v1M626.5 314v1M627.5 313v1M628.5 312v1M629.5 311v1M630.5 310v1M631.5 309v1M632.5 308v1M635.5 306v1M636.5 305v1M637.5 304v1M638.5 303v1M639.5 302v1M640.5 301v1M641.5 300v1M642.5 299v1M643.5 298v1M644.5 297v1M645.5 296v1M646.5 295v1M647.5 294v1M648.5 293v1M651.5 291v1M652.5 290v1M653.5 289v1M654.5 288v1M655.5 287v1M656.5 286v1M657.5 285v1M658.5 284v1M659.5 283v1M660.5 282v1M661.5 281v1M662.5 279v2M663.5 278v1M664.5 277v1M665.5 276v1M666.5 275v1M667.5 274v1M668.5 273v1M669.5 272v1M670.5 270v2M671.5 269v1M672.5 268v1M673.5 267v1M674.5 266v1M675.5 265v1M676.5 264v1M677.5 263v1M678.5 262v1M679.5 261v1M680.5 260v1M683.5 258v1M684.5 257v1M685.5 256v1M686.5 255v1M687.5 254v1M688.5 253v1M689.5 252v1M690.5 251v1M691.5 250v1M692.5 249v1M695.5 247v1M696.5 246v1M697.5 245v1M698.5 244v1M699.5 243v1M700.5 242v1M703.5 240v1M704.5 239v1M705.5 238v1M706.5 237v1M707.5 236v1M710.5 234v1M711.5 233v1M712.5 232v1M715.5 230v1M716.5 229v1M717.5 228v1M718.5 227v1M721.5 225v1M722.5 224v1M725.5 222v1M728.5 220v1M731.5 218v1M732.5 217v1M735.5 215v1M754.5 205v1M757.5 203v1M760.5 201v1M763.5 199v1M764.5 198v1M767.5 196v1M939.5 193v1M946.5 197v1M951.5 200v1M954.5 202v1M959.5 205v1M962.5 207v1M967.5 210v1M970.5 212v1M975.5 215v1M978.5 217v1M979.5 218v1M980.5 219v1M983.5 221v1M984.5 222v1M985.5 223v1M986.5 224v1M987.5 225v1M988.5 226v1M991.5 228v1M992.5 229v1M993.5 230v1M994.5 231v1M995.5 232v1M996.5 233v1M997.5 234v1M998.5 235v1M999.5 236v1M1000.5 237v1M1003.5 239v1M1004.5 240v1M1005.5 241v1M1006.5 242v1M1007.5 243v1M1008.5 244v1M1009.5 245v1M1010.5 246v1M1013.5 248v1M1014.5 249v1M1017.5 251v1M1018.5 252v1M1021.5 254v1M1022.5 255v1M1025.5 257v1M1026.5 258v1M1029.5 260v1M1030.5 261v1M1033.5 263v1M1034.5 264v1M1037.5 266v1M1038.5 267v1M1041.5 269v1M1042.5 270v1M1047.5 273v1M1050.5 275v1M1055.5 278v1M1058.5 280v1M1061.5 282v1M1064.5 284v1M1067.5 286v1M1068.5 287v1M1071.5 289v1M1074.5 291v1M1077.5 293v1M1078.5 294v1M1081.5 296v1M1082.5 297v1M1085.5 299v1M1086.5 300v1M1089.5 302v1M1106.5 311v1M1115.5 316v1M1171.5 341v1M1174.5 343v1M1175.5 344v1M1176.5 345v1M1179.5 347v1M1180.5 348v1M1181.5 349v1M1182.5 350v1M1185.5 352v1M1186.5 353v1M1187.5 354v1M1190.5 356v1M1191.5 357v1M1192.5 358v1M1195.5 360v1M1196.5 361v1M1197.5 362v1M1198.5 363v1M1201.5 365v1M1202.5 366v1M1203.5 367v1M1204.5 368v1M1207.5 370v1M1208.5 371v1M1209.5 372v1M1210.5 373v1M1211.5 374v1M1212.5 375v1M1215.5 377v1M1216.5 378v1M1217.5 379v1M1218.5 380v1M1219.5 381v1M1220.5 382v1M1223.5 384v1M1224.5 385v1M1225.5 386v1M1226.5 387v1M1227.5 388v1M1228.5 389v1M1231.5 391v1M1232.5 392v1M1233.5 393v1M1234.5 394v1M1235.5 395v1M1238.5 397v1M1239.5 398v1M1240.5 399v1M1243.5 401v1M1244.5 402v1M1245.5 403v1M1246.5 404v1M1249.5 406v1"/>
<path fill="none" stroke="#3cb371" stroke-width="1" d="M19 468.5h2M21 467.5h2M23 466.5h2M25 465.5h2M28 463.5h2M30 462.5h2M32 461.5h2M34 460.5h5M39 461.5h8M47 462.5h12M59 461.5h8M67 460.5h2M70 458.5h2M73 456.5h2M77 453.5h2M80 451.5h2M83 449.5h2M86 447.5h2M89 445.5h2M93 442.5h2M96 440.5h2M98 439.5h9M107 440.5h8M169 413.5h2M195 441.5h2M197 442.5h2M200 444.5h2M203 446.5h2M205 447.5h2M208 449.5h2M210 450.5h3M213 451.5h4M217 452.5h4M221 453.5h4M225 454.5h22M247 453.5h8M255 452.5h12M267 453.5h10M277 452.5h4M281 451.5h4M285 450.5h4M289 449.5h6M295 450.5h8M303 451.5h4M307 452.5h2M310 454.5h2M313 456.5h2M317 459.5h2M320 461.5h2M325 465.5h2M333 472.5h2M339 477.5h2M341 478.5h2M343 479.5h2M345 480.5h2M348 482.5h2M350 483.5h2M352 484.5h2M354 485.5h5M359 486.5h8M367 487.5h5M372 486.5h2M374 485.5h2M376 484.5h2M378 483.5h2M380 482.5h2M382 481.5h2M384 480.5h2M388 477.5h2M393 473.5h2M399 468.5h2M402 466.5h2M404 465.5h2M406 464.5h2M408 463.5h2M410 462.5h2M412 461.5h2M414 460.5h2M416 459.5h2M418 458.5h9M427 459.5h16M443 458.5h12M455 457.5h8M463 456.5h22M485 457.5h6M491 458.5h5M496 459.5h7M503 460.5h8M511 461.5h6M517 462.5h4M521 463.5h4M525 464.5h4M529 465.5h2M531 466.5h2M534 468.5h2M537 470.5h2M541 473.5h2M544 475.5h2M547 477.5h2M549 478.5h2M551 479.5h2M553 480.5h2M556 482.5h2M558 483.5h2M560 484.5h2M579 509.5h2M583 512.5h2M587 515.5h2M591 518.5h2M594 520.5h2M596 521.5h2M598 522.5h2M600 523.5h3M603 524.5h2M605 525.5h2M607 526.5h2M609 527.5h2M611 526.5h2M613 525.5h2M616 523.5h2M619 521.5h2M621 520.5h2M624 518.5h2M627 516.5h2M629 515.5h2M632 513.5h2M635 511.5h2M637 510.5h2M640 508.5h2M661 488.5h2M669 481.5h2M675 476.5h2M678 474.5h2M681 472.5h2M685 469.5h2M688 467.5h2M691 465.5h2M694 463.5h2M697 461.5h2M701 458.5h2M704 456.5h2M805 310.5h2M813 303.5h2M821 296.5h2M829 289.5h2M850 269.5h5M855 268.5h8M863 267.5h5M868 268.5h2M870 269.5h2M872 270.5h2M874 271.5h2M876 272.5h2M878 273.5h2M880 274.5h2M882 275.5h2M884 276.5h3M887 277.5h4M891 278.5h3M894 279.5h3M897 280.5h3M900 281.5h2M902 282.5h2M904 283.5h2M906 284.5h2M908 285.5h2M910 286.5h2M912 287.5h2M915 289.5h2M919 292.5h2M923 295.5h2M927 298.5h2M1011 402.5h2M1013 403.5h2M1015 404.5h2M1017 405.5h2M1020 407.5h2M1022 408.5h2M1024 409.5h2M1027 411.5h2M1029 412.5h2M1031 413.5h2M1033 414.5h2M1036 416.5h2M1038 417.5h2M1040 418.5h2M1042 419.5h2M1044 420.5h2M1046 421.5h2M1048 422.5h3M1051 423.5h2M1053 424.5h2M1055 425.5h2M1057 426.5h3M1060 427.5h2M1062 428.5h2M1064 429.5h2M1066 430.5h2M1068 431.5h2M1070 432.5h2M1072 433.5h2M1074 434.5h9M1083 435.5h8M1091 436.5h2M1093 437.5h2M1095 438.5h2M1097 439.5h2M1100 441.5h2M1102 442.5h2M1104 443.5h2M1106 444.5h2M1108 445.5h2M1110 446.5h2M1112 447.5h3M1115 448.5h2M1117 449.5h2M1119 450.5h2M1121 451.5h3M1124 452.5h2M1126 453.5h2M1128 454.5h3M1131 455.5h2M1133 456.5h2M1135 457.5h2M1137 458.5h4M1141 459.5h6M1147 460.5h5M1152 461.5h5M1157 460.5h6M1163 459.5h5M1168 458.5h3M1205 495.5h2M1213 502.5h2M1225 513.5h2M1237 524.5h2M1245 531.5h2M1250 535.5h2M1252 536.5h3M1255 537.5h4M1259 538.5h3M1262 539.5h3M1265 540.5h3M1268 541.5h2M1270 542.5h2M1272 543.5h2M1274 544.5h2M1276 545.5h2M1278 546.5h2M1280 547.5h2M1282 548.5h2M1284 549.5h3M1287 550.5h4M1291 551.5h3M1294 552.5h3M1297 553.5h3M1300 554.5h2M1302 555.5h2M1304 556.5h2M1306 557.5h2M1308 558.5h2M1310 559.5h2M1312 560.5h2M1314 561.5h2M1316 562.5h2M1318 563.5h2M1320 564.5h2M1322 565.5h2M1324 566.5h2M1326 567.5h2M1328 568.5h2M2.5 493v1M3.5 491v2M4.5 490v1M5.5 488v2M6.5 487v1M7.5 485v2M8.5 484v1M9.5 482v2M10.5 481v1M11.5 479v2M12.5 478v1M13.5 476v2M14.5 475v1M15.5 473v2M16.5 472v1M17.5 470v2M18.5 469v1M27.5 464v1M69.5 459v1M72.5 457v1M75.5 455v1M76.5 454v1M79.5 452v1M82.5 450v1M85.5 448v1M88.5 446v1M91.5 444v1M92.5 443v1M95.5 441v1M115.5 438v2M116.5 437v1M117.5 435v2M118.5 433v2M119.5 432v1M120.5 430v2M121.5 429v1M122.5 427v2M123.5 426v1M124.5 424v2M125.5 423v1M126.5 421v2M127.5 419v2M128.5 418v1M129.5 416v2M130.5 415v1M131.5 413v2M132.5 412v1M133.5 410v2M134.5 408v2M135.5 407v1M136.5 405v2M137.5 404v1M138.5 402v2M139.5 401v1M140.5 399v2M141.5 398v1M142.5 396v2M143.5 394v2M144.5 393v1M145.5 391v2M146.5 390v1M147.5 391v1M148.5 392v1M149.5 393v1M150.5 394v1M151.5 395v1M152.5 396v1M153.5 397v1M154.5 398v1M155.5 399v1M156.5 400v1M157.5 401v1M158.5 402v1M159.5 403v1M160.5 404v1M161.5 405v1M162.5 406v1M163.5 407v1M164.5 408v1M165.5 409v1M166.5 410v1M167.5 411v1M168.5 412v1M171.5 414v1M172.5 415v1M173.5 416v1M174.5 417v1M175.5 418v1M176.5 419v1M177.5 420v1M178.5 421v1M179.5 422v1M180.5 423v1M181.5 424v2M182.5 426v1M183.5 427v1M184.5 428v1M185.5 429v1M186.5 430v2M187.5 432v1M188.5 433v1M189.5 434v1M190.5 435v1M191.5 436v2M192.5 438v1M193.5 439v1M194.5 440v1M199.5 443v1M202.5 445v1M207.5 448v1M309.5 453v1M312.5 455v1M315.5 457v1M316.5 458v1M319.5 460v1M322.5 462v1M323.5 463v1M324.5 464v1M327.5 466v1M328.5 467v1M329.5 468v1M330.5 469v1M331.5 470v1M332.5 471v1M335.5 473v1M336.5 474v1M337.5 475v1M338.5 476v1M347.5 481v1M386.5 479v1M387.5 478v1M390.5 476v1M391.5 475v1M392.5 474v1M395.5 472v1M396.5 471v1M397.5 470v1M398.5 469v1M401.5 467v1M533.5 467v1M536.5 469v1M539.5 471v1M540.5 472v1M543.5 474v1M546.5 476v1M555.5 481v1M562.5 485v1M563.5 486v2M564.5 488v1M565.5 489v2M566.5 491v1M567.5 492v1M568.5 493v2M569.5 495v1M570.5 496v2M571.5 498v1M572.5 499v2M573.5 501v1M574.5 502v1M575.5 503v2M576.5 505v1M577.5 506v2M578.5 508v1M581.5 510v1M582.5 511v1M585.5 513v1M586.5 514v1M589.5 516v1M590.5 517v1M593.5 519v1M615.5 524v1M618.5 522v1M623.5 519v1M626.5 517v1M631.5 514v1M634.5 512v1M639.5 509v1M642.5 507v1M643.5 506v1M644.5 505v1M645.5 504v1M646.5 503v1M647.5 502v1M648.5 501v1M649.5 500v1M650.5 499v1M651.5 498v1M652.5 497v1M653.5 496v1M654.5 495v1M655.5 494v1M656.5 493v1M657.5 492v1M658.5 491v1M659.5 490v1M660.5 489v1M663.5 487v1M664.5 486v1M665.5 485v1M666.5 484v1M667.5 483v1M668.5 482v1M671.5 480v1M672.5 479v1M673.5 478v1M674.5 477v1M677.5 475v1M680.5 473v1M683.5 471v1M684.5 470v1M687.5 468v1M690.5 466v1M693.5 464v1M696.5 462v1M699.5 460v1M700.5 459v1M703.5 457v1M706.5 455v1M707.5 454v1M708.5 452v2M709.5 451v1M710.5 450v1M711.5 449v1M712.5 447v2M713.5 446v1M714.5 445v1M715.5 444v1M716.5 442v2M717.5 441v1M718.5 440v1M719.5 439v1M720.5 437v2M721.5 436v1M722.5 435v1M723.5 433v2M724.5 432v1M725.5 430v2M726.5 429v1M727.5 427v2M728.5 426v1M729.5 424v2M730.5 423v1M731.5 421v2M732.5 420v1M733.5 418v2M734.5 417v1M735.5 415v2M736.5 414v1M737.5 412v2M738.5 411v1M739.5 409v2M740.5 407v2M741.5 406v1M742.5 404v2M743.5 403v1M744.5 401v2M745.5 399v2M746.5 398v1M747.5 396v2M748.5 394v2M749.5 393v1M750.5 391v2M751.5 390v1M752.5 388v2M753.5 386v2M754.5 385v1M755.5 383v2M756.5 382v1M757.5 381v1M758.5 379v2M759.5 378v1M760.5 377v1M761.5 375v2M762.5 374v1M763.5 372v2M764.5 371v1M765.5 370v1M766.5 368v2M767.5 367v1M768.5 366v1M769.5 364v2M770.5 363v1M771.5 362v1M772.5 361v1M773.5 359v2M774.5 358v1M775.5 357v1M776.5 356v1M777.5 355v1M778.5 353v2M779.5 352v1M780.5 351v1M781.5 350v1M782.5 349v1M783.5 347v2M784.5 346v1M785.5 345v1M786.5 344v1M787.5 342v2M788.5 340v2M789.5 338v2M790.5 336v2M791.5 334v2M792.5 332v2M793.5 330v2M794.5 328v2M795.5 326v2M796.5 324v2M797.5 322v2M798.5 320v2M799.5 318v2M800.5 316v2M801.5 314v2M802.5 313v1M803.5 312v1M804.5 311v1M807.5 309v1M808.5 308v1M809.5 307v1M810.5 306v1M811.5 305v1M812.5 304v1M815.5 302v1M816.5 301v1M817.5 300v1M818.5 299v1M819.5 298v1M820.5 297v1M823.5 295v1M824.5 294v1M825.5 293v1M826.5 292v1M827.5 291v1M828.5 290v1M831.5 288v1M832.5 287v1M833.5 286v1M834.5 285v1M835.5 284v1M836.5 283v1M837.5 282v1M838.5 281v1M839.5 280v1M840.5 279v1M841.5 278v1M842.5 277v1M843.5 276v1M844.5 275v1M845.5 274v1M846.5 273v1M847.5 272v1M848.5 271v1M849.5 270v1M914.5 288v1M917.5 290v1M918.5 291v1M921.5 293v1M922.5 294v1M925.5 296v1M926.5 297v1M929.5 299v1M930.5 300v1M931.5 301v1M932.5 302v1M933.5 303v2M934.5 305v1M935.5 306v1M936.5 307v1M937.5 308v1M938.5 309v2M939.5 311v1M940.5 312v1M941.5 313v1M942.5 314v1M943.5 315v2M944.5 317v1M945.5 318v1M946.5 319v1M947.5 320v1M948.5 321v2M949.5 323v1M950.5 324v1M951.5 325v2M952.5 327v1M953.5 328v1M954.5 329v2M955.5 331v1M956.5 332v1M957.5 333v2M958.5 335v1M959.5 336v1M960.5 337v2M961.5 339v1M962.5 340v1M963.5 341v1M964.5 342v2M965.5 344v1M966.5 345v1M967.5 346v1M968.5 347v2M969.5 349v1M970.5 350v1M971.5 351v1M972.5 352v2M973.5 354v1M974.5 355v1M975.5 356v1M976.5 357v2M977.5 359v1M978.5 360v1M979.5 361v1M980.5 362v2M981.5 364v1M982.5 365v1M983.5 366v2M984.5 368v1M985.5 369v1M986.5 370v2M987.5 372v1M988.5 373v1M989.5 374v2M990.5 376v1M991.5 377v1M992.5 378v2M993.5 380v1M994.5 381v1M995.5 382v1M996.5 383v2M997.5 385v1M998.5 386v1M999.5 387v1M1000.5 388v2M1001.5 390v1M1002.5 391v1M1003.5 392v1M1004.5 393v2M1005.5 395v1M1006.5 396v1M1007.5 397v1M1008.5 398v2M1009.5 400v1M1010.5 401v1M1019.5 406v1M1026.5 410v1M1035.5 415v1M1099.5 440v1M1171.5 459v1M1172.5 460v1M1173.5 461v1M1174.5 462v2M1175.5 464v1M1176.5 465v1M1177.5 466v1M1178.5 467v1M1179.5 468v1M1180.5 469v1M1181.5 470v1M1182.5 471v2M1183.5 473v1M1184.5 474v1M1185.5 475v1M1186.5 476v1M1187.5 477v1M1188.5 478v1M1189.5 479v1M1190.5 480v1M1191.5 481v1M1192.5 482v1M1193.5 483v1M1194.5 484v1M1195.5 485v1M1196.5 486v1M1197.5 487v1M1198.5 488v1M1199.5 489v1M1200.5 490v1M1201.5 491v1M1202.5 492v1M1203.5 493v1M1204.5 494v1M1207.5 496v1M1208.5 497v1M1209.5 498v1M1210.5 499v1M1211.5 500v1M1212.5 501v1M1215.5 503v1M1216.5 504v1M1217.5 505v1M1218.5 506v1M1219.5 507v1M1220.5 508v1M1221.5 509v1M1222.5 510v1M1223.5 511v1M1224.5 512v1M1227.5 514v1M1228.5 515v1M1229.5 516v1M1230.5 517v1M1231.5 518v1M1232.5 519v1M1233.5 520v1M1234.5 521v1M1235.5 522v1M1236.5 523v1M1239.5 525v1M1240.5 526v1M1241.5 527v1M1242.5 528v1M1243.5 529v1M1244.5 530v1M1247.5 532v1M1248.5 533v1M1249.5 534v1M1330.5 569v1"/>
<rect x="2" y="89" width="1" height="110" fill="#000"/>
<rect x="-3" y="114" width="11" height="79" fill="#000"/>
<rect x="18" y="167" width="1" height="143" fill="#000"/>
<rect x="13" y="193" width="11" height="99" fill="#000"/>
<rect x="34" y="251" width="1" height="67" fill="#000"/>
<rect x="29.5" y="258.5" width="10" height="33" fill="#fff" stroke="#000" stroke-width="1"/>
<rect x="50" y="250" width="1" height="29" fill="#000"/>
<rect x="45" y="258" width="11" height="2" fill="#000"/>
<rect x="66" y="205" width="1" height="58" fill="#000"/>
<rect x="61.5" y="211.5" width="10" height="49" fill="#fff" stroke="#000" stroke-width="1"/>
<rect x="82" y="146" width="1" height="81" fill="#000"/>
<rect x="77.5" y="207.5" width="10" height="4" fill="#fff" stroke="#000" stroke-width="1"/>
<rect x="98" y="194" width="1" height="87" fill="#000"/>
<rect x="93" y="207" width="11" height="55" fill="#000"/>
<rect x="114" y="250" width="1" height="143" fill="#000"/>
<rect x="109" y="261" width="11" height="128" fill="#000"/>
<rect x="130" y="323" width="1" height="105" fill="#000"/>
<rect x="125.5" y="347.5" width="10" height="42" fill="#fff" stroke="#000" stroke-width="1"/>
<rect x="146" y="322" width="1" height="16" fill="#000"/>
<rect x="141.5" y="322.5" width="10" height="15" fill="#fff" stroke="#000" stroke-width="1"/>
<rect x="162" y="326" width="1" height="55" fill="#000"/>
<rect x="157" y="326" width="11" height="14" fill="#000"/>
<rect x="178" y="335" width="1" height="42" fill="#000"/>
<rect x="173" y="339" width="11" height="8" fill="#000"/>
<rect x="194" y="324" width="1" height="60" fill="#000"/>
<rect x="189" y="345" width="11" height="23" fill="#000"/>
<rect x="210" y="353" width="1" height="78" fill="#000"/>
<rect x="205.5" y="366.5" width="10" height="2" fill="#fff" stroke="#000" stroke-width="1"/>
<rect x="226" y="298" width="1" height="71" fill="#000"/>
<rect x="221.5" y="320.5" width="10" height="46" fill="#fff" stroke="#000" stroke-width="1"/>
<rect x="242" y="312" width="1" height="32" fill="#000"/>
<rect x="237" y="321" width="11" height="20" fill="#000"/>
<rect x="258" y="305" width="1" height="57" fill="#000"/>
<rect x="253.5" y="320.5" width="10" height="19" fill="#fff" stroke="#000" stroke-width="1"/>
<rect x="274" y="291" width="1" height="87" fill="#000"/>
<rect x="269" y="320" width="11" height="51" fill="#000"/>
<rect x="290" y="244" width="1" height="153" fill="#000"/>
<rect x="285" y="371" width="11" height="1" fill="#000"/>
<rect x="306" y="356" width="1" height="132" fill="#000"/>
<rect x="301" y="371" width="11" height="94" fill="#000"/>
<rect x="322" y="420" width="1" height="73" fill="#000"/>
<rect x="317.5" y="439.5" width="10" height="24" fill="#fff" stroke="#000" stroke-width="1"/>
<rect x="338" y="421" width="1" height="38" fill="#000"/>
<rect x="333" y="438" width="11" height="8" fill="#000"/>
<rect x="354" y="418" width="1" height="37" fill="#000"/>
<rect x="349.5" y="430.5" width="10" height="14" fill="#fff" stroke="#000" stroke-width="1"/>
<rect x="370" y="379" width="1" height="57" fill="#000"/>
<rect x="365.5" y="391.5" width="10" height="39" fill="#fff" stroke="#000" stroke-width="1"/>
<rect x="386" y="320" width="1" height="95" fill="#000"/>
<rect x="381.5" y="361.5" width="10" height="30" fill="#fff" stroke="#000" stroke-width="1"/>
<rect x="402" y="310" width="1" height="149" fill="#000"/>
<rect x="397" y="360" width="11" height="34" fill="#000"/>
<rect x="418" y="360" width="1" height="61" fill="#000"/>
<rect x="413" y="393" width="11" height="3" fill="#000"/>
<rect x="434" y="373" width="1" height="50" fill="#000"/>
<rect x="429.5" y="379.5" width="10" height="16" fill="#fff" stroke="#000" stroke-width="1"/>
<rect x="450" y="343" width="1" height="38" fill="#000"/>
<rect x="445.5" y="355.5" width="10" height="25" fill="#fff" stroke="#000" stroke-width="1"/>
<rect x="466" y="312" width="1" height="88" fill="#000"/>
<rect x="461.5" y="349.5" width="10" height="5" fill="#fff" stroke="#000" stroke-width="1"/>
<rect x="482" y="340" width="1" height="86" fill="#000"/>
<rect x="477" y="349" width="11" height="21" fill="#000"/>
<rect x="498" y="263" width="1" height="114" fill="#000"/>
<rect x="493.5" y="318.5" width="10" height="51" fill="#fff" stroke="#000" stroke-width="1"/>
<rect x="514" y="274" width="1" height="51" fill="#000"/>
<rect x="509.5" y="298.5" width="10" height="20" fill="#fff" stroke="#000" stroke-width="1"/>
<rect x="530" y="292" width="1" height="23" fill="#000"/>
<rect x="525" y="297" width="11" height="7" fill="#000"/>
<rect x="546" y="218" width="1" height="93" fill="#000"/>
<rect x="541.5" y="228.5" width="10" height="77" fill="#fff" stroke="#000" stroke-width="1"/>
<rect x="562" y="221" width="1" height="36" fill="#000"/>
<rect x="557" y="229" width="11" height="6" fill="#000"/>
<rect x="578" y="120" width="1" height="123" fill="#000"/>
<rect x="573.5" y="140.5" width="10" height="94" fill="#fff" stroke="#000" stroke-width="1"/>
<rect x="594" y="55" width="1" height="101" fill="#000"/>
<rect x="589" y="141" width="11" height="6" fill="#000"/>
<rect x="610" y="125" width="1" height="36" fill="#000"/>
<rect x="605.5" y="143.5" width="10" height="3" fill="#fff" stroke="#000" stroke-width="1"/>
<rect x="626" y="140" width="1" height="22" fill="#000"/>
<rect x="621.5" y="140.5" width="10" height="20" fill="#fff" stroke="#000" stroke-width="1"/>
<rect x="642" y="106" width="1" height="49" fill="#000"/>
<rect x="637" y="140" width="11" height="6" fill="#000"/>
<rect x="658" y="119" width="1" height="66" fill="#000"/>
<rect x="653.5" y="135.5" width="10" height="11" fill="#fff" stroke="#000" stroke-width="1"/>
<rect x="674" y="94" width="1" height="54" fill="#000"/>
<rect x="669.5" y="106.5" width="10" height="29" fill="#fff" stroke="#000" stroke-width="1"/>
<rect x="690" y="59" width="1" height="61" fill="#000"/>
<rect x="685.5" y="103.5" width="10" height="3" fill="#fff" stroke="#000" stroke-width="1"/>
<rect x="706" y="95" width="1" height="51" fill="#000"/>
<rect x="701" y="102" width="11" height="20" fill="#000"/>
<rect x="722" y="101" width="1" height="32" fill="#000"/>
<rect x="717" y="120" width="11" height="8" fill="#000"/>
<rect x="738" y="106" width="1" height="74" fill="#000"/>
<rect x="733" y="127" width="11" height="23" fill="#000"/>
<rect x="754" y="135" width="1" height="58" fill="#000"/>
<rect x="749" y="149" width="11" height="35" fill="#000"/>
<rect x="770" y="137" width="1" height="65" fill="#000"/>
<rect x="765.5" y="147.5" width="10" height="36" fill="#fff" stroke="#000" stroke-width="1"/>
<rect x="786" y="134" width="1" height="119" fill="#000"/>
<rect x="781" y="147" width="11" height="93" fill="#000"/>
<rect x="802" y="206" width="1" height="38" fill="#000"/>
<rect x="797.5" y="223.5" width="10" height="16" fill="#fff" stroke="#000" stroke-width="1"/>
<rect x="818" y="210" width="1" height="52" fill="#000"/>
<rect x="813" y="222" width="11" height="25" fill="#000"/>
<rect x="834" y="205" width="1" height="54" fill="#000"/>
<rect x="829.5" y="225.5" width="10" height="23" fill="#fff" stroke="#000" stroke-width="1"/>
<rect x="850" y="195" width="1" height="51" fill="#000"/>
<rect x="845" y="226" width="11" height="10" fill="#000"/>
<rect x="866" y="197" width="1" height="72" fill="#000"/>
<rect x="861.5" y="220.5" width="10" height="15" fill="#fff" stroke="#000" stroke-width="1"/>
<rect x="882" y="216" width="1" height="71" fill="#000"/>
<rect x="877" y="220" width="11" height="48" fill="#000"/>
<rect x="898" y="220" width="1" height="62" fill="#000"/>
<rect x="893.5" y="230.5" width="10" height="37" fill="#fff" stroke="#000" stroke-width="1"/>
<rect x="914" y="224" width="1" height="24" fill="#000"/>
<rect x="909" y="230" width="11" height="15" fill="#000"/>
<rect x="930" y="241" width="1" height="44" fill="#000"/>
<rect x="925" y="245" width="11" height="36" fill="#000"/>
<rect x="946" y="251" width="1" height="82" fill="#000"/>
<rect x="941" y="281" width="11" height="37" fill="#000"/>
<rect x="962" y="291" width="1" height="68" fill="#000"/>
<rect x="957" y="317" width="11" height="18" fill="#000"/>
<rect x="978" y="317" width="1" height="58" fill="#000"/>
<rect x="973" y="334" width="11" height="13" fill="#000"/>
<rect x="994" y="337" width="1" height="55" fill="#000"/>
<rect x="989" y="347" width="11" height="45" fill="#000"/>
<rect x="1010" y="362" width="1" height="32" fill="#000"/>
<rect x="1005" y="389" width="11" height="1" fill="#000"/>
<rect x="1026" y="361" width="1" height="15" fill="#000"/>
<rect x="1021" y="368" width="11" height="4" fill="#000"/>
<rect x="1042" y="350" width="1" height="32" fill="#000"/>
<rect x="1037" y="371" width="11" height="1" fill="#000"/>
<rect x="1058" y="354" width="1" height="24" fill="#000"/>
<rect x="1053.5" y="368.5" width="10" height="4" fill="#fff" stroke="#000" stroke-width="1"/>
<rect x="1074" y="360" width="1" height="25" fill="#000"/>
<rect x="1069" y="368" width="11" height="13" fill="#000"/>
<rect x="1090" y="375" width="1" height="33" fill="#000"/>
<rect x="1085" y="380" width="11" height="7" fill="#000"/>
<rect x="1106" y="378" width="1" height="19" fill="#000"/>
<rect x="1101" y="386" width="11" height="8" fill="#000"/>
<rect x="1122" y="384" width="1" height="15" fill="#000"/>
<rect x="1117.5" y="391.5" width="10" height="2" fill="#fff" stroke="#000" stroke-width="1"/>
<rect x="1138" y="384" width="1" height="70" fill="#000"/>
<rect x="1133" y="391" width="11" height="7" fill="#000"/>
<rect x="1154" y="375" width="1" height="37" fill="#000"/>
<rect x="1149" y="396" width="11" height="2" fill="#000"/>
<rect x="1170" y="327" width="1" height="75" fill="#000"/>
<rect x="1165.5" y="345.5" width="10" height="52" fill="#fff" stroke="#000" stroke-width="1"/>
<rect x="1186" y="340" width="1" height="170" fill="#000"/>
<rect x="1181" y="344" width="11" height="148" fill="#000"/>
<rect x="1202" y="486" width="1" height="46" fill="#000"/>
<rect x="1197" y="492" width="11" height="10" fill="#000"/>
<rect x="1218" y="495" width="1" height="24" fill="#000"/>
<rect x="1213.5" y="500.5" width="10" height="4" fill="#fff" stroke="#000" stroke-width="1"/>
<rect x="1234" y="476" width="1" height="57" fill="#000"/>
<rect x="1229" y="501" width="11" height="29" fill="#000"/>
<rect x="1250" y="510" width="1" height="58" fill="#000"/>
<rect x="1245" y="529" width="11" height="5" fill="#000"/>
<rect x="1266" y="479" width="1" height="79" fill="#000"/>
<rect x="1261.5" y="479.5" width="10" height="55" fill="#fff" stroke="#000" stroke-width="1"/>
<rect x="1282" y="476" width="1" height="39" fill="#000"/>
<rect x="1277" y="479" width="11" height="19" fill="#000"/>
<rect x="1298" y="446" width="1" height="93" fill="#000"/>
<rect x="1293.5" y="492.5" width="10" height="6" fill="#fff" stroke="#000" stroke-width="1"/>
<rect x="1314" y="477" width="1" height="44" fill="#000"/>
<rect x="1309" y="492" width="11" height="13" fill="#000"/>
<rect x="1330" y="496" width="1" height="13" fill="#000"/>
<rect x="1325.5" y="499.5" width="10" height="5" fill="#fff" stroke="#000" stroke-width="1"/>
</g>
<text x="935.2" y="503.8" fill="#00ff00" style="font-family:'Liberation Sans','Noto Serif CJK SC',serif;text-shadow:1px 1px 0 #0a5a0a"><tspan font-weight="600" font-size="30.5" letter-spacing="2.4">多空转折点</tspan><tspan font-weight="bold" font-size="32.7" x="1099" y="504.5">144.887</tspan></text>
<g clip-path="url(#cmacd)" shape-rendering="crispEdges">
<rect x="1" y="597" width="2" height="86" fill="#c0c0c0"/>
<rect x="17" y="611" width="2" height="72" fill="#c0c0c0"/>
<rect x="33" y="623" width="2" height="60" fill="#c0c0c0"/>
<rect x="49" y="634" width="2" height="49" fill="#c0c0c0"/>
<rect x="65" y="638" width="2" height="45" fill="#c0c0c0"/>
<rect x="81" y="641" width="2" height="42" fill="#c0c0c0"/>
<rect x="97" y="649" width="2" height="34" fill="#c0c0c0"/>
<rect x="113" y="668" width="2" height="15" fill="#c0c0c0"/>
<rect x="129" y="679" width="2" height="4" fill="#c0c0c0"/>
<rect x="145" y="683" width="2" height="3" fill="#c0c0c0"/>
<rect x="161" y="683" width="2" height="10" fill="#c0c0c0"/>
<rect x="177" y="683" width="2" height="16" fill="#c0c0c0"/>
<rect x="193" y="683" width="2" height="22" fill="#c0c0c0"/>
<rect x="209" y="683" width="2" height="26" fill="#c0c0c0"/>
<rect x="225" y="683" width="2" height="25" fill="#c0c0c0"/>
<rect x="241" y="683" width="2" height="26" fill="#c0c0c0"/>
<rect x="257" y="683" width="2" height="25" fill="#c0c0c0"/>
<rect x="273" y="683" width="2" height="28" fill="#c0c0c0"/>
<rect x="289" y="683" width="2" height="30" fill="#c0c0c0"/>
<rect x="305" y="683" width="2" height="41" fill="#c0c0c0"/>
<rect x="321" y="683" width="2" height="46" fill="#c0c0c0"/>
<rect x="337" y="683" width="2" height="50" fill="#c0c0c0"/>
<rect x="353" y="683" width="2" height="51" fill="#c0c0c0"/>
<rect x="369" y="683" width="2" height="48" fill="#c0c0c0"/>
<rect x="385" y="683" width="2" height="42" fill="#c0c0c0"/>
<rect x="401" y="683" width="2" height="40" fill="#c0c0c0"/>
<rect x="417" y="683" width="2" height="38" fill="#c0c0c0"/>
<rect x="433" y="683" width="2" height="35" fill="#c0c0c0"/>
<rect x="449" y="683" width="2" height="29" fill="#c0c0c0"/>
<rect x="465" y="683" width="2" height="24" fill="#c0c0c0"/>
<rect x="481" y="683" width="2" height="22" fill="#c0c0c0"/>
<rect x="497" y="683" width="2" height="15" fill="#c0c0c0"/>
<rect x="513" y="683" width="2" height="7" fill="#c0c0c0"/>
<rect x="529" y="683" width="2" height="2" fill="#c0c0c0"/>
<rect x="545" y="672" width="2" height="11" fill="#c0c0c0"/>
<rect x="561" y="664" width="2" height="19" fill="#c0c0c0"/>
<rect x="577" y="649" width="2" height="34" fill="#c0c0c0"/>
<rect x="593" y="638" width="2" height="45" fill="#c0c0c0"/>
<rect x="609" y="630" width="2" height="53" fill="#c0c0c0"/>
<rect x="625" y="624" width="2" height="59" fill="#c0c0c0"/>
<rect x="641" y="620" width="2" height="63" fill="#c0c0c0"/>
<rect x="657" y="617" width="2" height="66" fill="#c0c0c0"/>
<rect x="673" y="612" width="2" height="71" fill="#c0c0c0"/>
<rect x="689" y="609" width="2" height="74" fill="#c0c0c0"/>
<rect x="705" y="609" width="2" height="74" fill="#c0c0c0"/>
<rect x="721" y="611" width="2" height="72" fill="#c0c0c0"/>
<rect x="737" y="615" width="2" height="68" fill="#c0c0c0"/>
<rect x="753" y="622" width="2" height="61" fill="#c0c0c0"/>
<rect x="769" y="625" width="2" height="58" fill="#c0c0c0"/>
<rect x="785" y="637" width="2" height="46" fill="#c0c0c0"/>
<rect x="801" y="645" width="2" height="38" fill="#c0c0c0"/>
<rect x="817" y="654" width="2" height="29" fill="#c0c0c0"/>
<rect x="833" y="660" width="2" height="23" fill="#c0c0c0"/>
<rect x="849" y="665" width="2" height="18" fill="#c0c0c0"/>
<rect x="865" y="668" width="2" height="15" fill="#c0c0c0"/>
<rect x="881" y="675" width="2" height="8" fill="#c0c0c0"/>
<rect x="897" y="677" width="2" height="6" fill="#c0c0c0"/>
<rect x="913" y="680" width="2" height="3" fill="#c0c0c0"/>
<rect x="929" y="683" width="2" height="4" fill="#c0c0c0"/>
<rect x="945" y="683" width="2" height="12" fill="#c0c0c0"/>
<rect x="961" y="683" width="2" height="20" fill="#c0c0c0"/>
<rect x="977" y="683" width="2" height="27" fill="#c0c0c0"/>
<rect x="993" y="683" width="2" height="36" fill="#c0c0c0"/>
<rect x="1009" y="683" width="2" height="43" fill="#c0c0c0"/>
<rect x="1025" y="683" width="2" height="46" fill="#c0c0c0"/>
<rect x="1041" y="683" width="2" height="48" fill="#c0c0c0"/>
<rect x="1057" y="683" width="2" height="49" fill="#c0c0c0"/>
<rect x="1073" y="683" width="2" height="50" fill="#c0c0c0"/>
<rect x="1089" y="683" width="2" height="51" fill="#c0c0c0"/>
<rect x="1105" y="683" width="2" height="52" fill="#c0c0c0"/>
<rect x="1121" y="683" width="2" height="52" fill="#c0c0c0"/>
<rect x="1137" y="683" width="2" height="51" fill="#c0c0c0"/>
<rect x="1153" y="683" width="2" height="51" fill="#c0c0c0"/>
<rect x="1169" y="683" width="2" height="45" fill="#c0c0c0"/>
<rect x="1185" y="683" width="2" height="54" fill="#c0c0c0"/>
<rect x="1201" y="683" width="2" height="61" fill="#c0c0c0"/>
<rect x="1217" y="683" width="2" height="65" fill="#c0c0c0"/>
<rect x="1233" y="683" width="2" height="71" fill="#c0c0c0"/>
<rect x="1249" y="683" width="2" height="75" fill="#c0c0c0"/>
<rect x="1265" y="683" width="2" height="73" fill="#c0c0c0"/>
<rect x="1281" y="683" width="2" height="71" fill="#c0c0c0"/>
<rect x="1297" y="683" width="2" height="69" fill="#c0c0c0"/>
<rect x="1313" y="683" width="2" height="68" fill="#c0c0c0"/>
<rect x="1329" y="683" width="2" height="65" fill="#c0c0c0"/>
</g><g clip-path="url(#cmacd)" shape-rendering="crispEdges">
<path fill="none" stroke="#ff0000" stroke-width="1" d="M2 597.5h3M8 597.5h3M14 596.5h3M20 596.5h3M26 596.5h3M32 596.5h3M38 597.5h3M45 599.5h2M50 600.5h3M57 602.5h2M62 603.5h3M68 605.5h3M74 607.5h2M81 610.5h2M86 612.5h2M92 615.5h2M98 618.5h2M104 621.5h2M110 624.5h2M128 636.5h2M134 640.5h2M141 645.5h2M147 649.5h2M153 652.5h2M158 655.5h2M164 658.5h2M170 661.5h2M176 664.5h2M182 667.5h2M188 670.5h2M194 673.5h2M200 676.5h3M207 679.5h2M212 681.5h2M218 684.5h2M224 687.5h2M231 690.5h2M236 692.5h3M242 694.5h3M249 696.5h2M254 697.5h3M261 699.5h2M266 700.5h3M273 702.5h2M278 703.5h3M284 704.5h3M290 705.5h3M297 707.5h2M302 708.5h3M309 710.5h2M315 711.5h2M320 712.5h3M326 713.5h3M332 714.5h3M338 715.5h3M344 716.5h3M350 717.5h2M356 718.5h3M362 719.5h3M368 720.5h3M375 721.5h2M380 721.5h3M386 722.5h3M392 723.5h3M398 723.5h3M404 724.5h3M410 724.5h3M416 725.5h3M422 725.5h3M428 725.5h3M434 725.5h3M440 725.5h3M446 724.5h3M452 724.5h2M458 723.5h3M464 722.5h3M470 721.5h3M476 720.5h3M482 719.5h3M489 717.5h2M494 716.5h3M500 714.5h3M507 712.5h2M513 710.5h2M518 709.5h3M525 707.5h2M530 706.5h2M536 704.5h3M542 702.5h3M548 700.5h2M555 697.5h2M561 694.5h2M566 692.5h2M572 689.5h2M578 686.5h2M584 683.5h2M590 680.5h2M596 677.5h2M603 674.5h2M609 671.5h2M621 664.5h2M626 661.5h2M632 658.5h2M638 655.5h2M644 652.5h2M650 649.5h2M656 646.5h2M663 642.5h2M668 639.5h2M674 636.5h2M680 633.5h3M687 630.5h2M692 628.5h3M699 626.5h2M705 624.5h2M710 623.5h3M717 621.5h2M722 620.5h3M729 618.5h2M734 617.5h3M740 616.5h3M747 615.5h2M752 615.5h3M758 615.5h3M764 616.5h3M770 616.5h3M776 617.5h3M783 618.5h2M789 619.5h2M794 620.5h3M801 622.5h2M806 623.5h3M813 625.5h2M818 626.5h2M824 628.5h3M830 630.5h3M836 632.5h2M843 635.5h2M849 638.5h2M855 640.5h2M860 642.5h3M866 644.5h2M873 647.5h2M879 649.5h2M884 651.5h3M890 653.5h2M897 656.5h2M903 658.5h2M908 660.5h3M914 662.5h2M921 665.5h2M927 667.5h2M932 669.5h3M939 671.5h2M945 673.5h2M951 675.5h2M956 677.5h3M962 679.5h2M968 681.5h3M974 683.5h3M980 685.5h3M986 687.5h2M993 690.5h2M999 692.5h2M1004 694.5h3M1010 696.5h2M1017 699.5h2M1023 701.5h2M1028 703.5h3M1034 705.5h2M1041 708.5h2M1047 710.5h2M1052 712.5h3M1058 714.5h2M1064 716.5h3M1070 718.5h3M1077 720.5h2M1082 721.5h3M1089 723.5h2M1094 724.5h3M1101 726.5h2M1106 727.5h3M1112 728.5h3M1118 729.5h2M1124 730.5h3M1130 731.5h3M1136 732.5h3M1142 732.5h3M1148 733.5h3M1154 733.5h3M1160 733.5h3M1166 733.5h3M1172 733.5h3M1178 733.5h3M1184 733.5h3M1190 733.5h3M1196 734.5h3M1202 734.5h3M1208 734.5h3M1214 735.5h3M1221 736.5h2M1227 737.5h2M1232 738.5h3M1239 739.5h2M1244 739.5h3M1250 740.5h3M1256 741.5h3M1262 742.5h2M1268 743.5h3M1274 744.5h3M1280 745.5h3M1286 746.5h3M1292 747.5h3M1298 748.5h3M1304 749.5h3M1311 750.5h2M1316 750.5h3M1323 751.5h2M1328 751.5h3M44.5 598v1M56.5 601v1M76.5 608v1M80.5 609v1M88.5 613v1M94.5 616v1M100.5 619v1M106.5 622v1M112.5 625v1M116.5 627v1M117.5 628v1M118.5 629v1M122.5 631v1M123.5 632v1M124.5 633v1M130.5 637v1M136.5 641v1M140.5 644v1M146.5 648v1M152.5 651v1M160.5 656v1M166.5 659v1M172.5 662v1M178.5 665v1M184.5 668v1M190.5 671v1M196.5 674v1M206.5 678v1M214.5 682v1M220.5 685v1M226.5 688v1M230.5 689v1M248.5 695v1M260.5 698v1M272.5 701v1M296.5 706v1M308.5 709v1M314.5 710v1M352.5 718v1M374.5 720v1M454.5 723v1M488.5 718v1M506.5 713v1M512.5 711v1M524.5 708v1M532.5 705v1M550.5 699v1M554.5 698v1M560.5 695v1M568.5 691v1M574.5 688v1M580.5 685v1M586.5 682v1M592.5 679v1M598.5 676v1M602.5 675v1M608.5 672v1M614.5 669v1M615.5 668v1M616.5 667v1M620.5 665v1M628.5 660v1M634.5 657v1M640.5 654v1M646.5 651v1M652.5 648v1M658.5 645v1M662.5 643v1M670.5 638v1M676.5 635v1M686.5 631v1M698.5 627v1M704.5 625v1M716.5 622v1M728.5 619v1M746.5 616v1M782.5 617v1M788.5 618v1M800.5 621v1M812.5 624v1M820.5 627v1M838.5 633v1M842.5 634v1M848.5 637v1M854.5 639v1M868.5 645v1M872.5 646v1M878.5 648v1M892.5 654v1M896.5 655v1M902.5 657v1M916.5 663v1M920.5 664v1M926.5 666v1M938.5 670v1M944.5 672v1M950.5 674v1M964.5 680v1M988.5 688v1M992.5 689v1M998.5 691v1M1012.5 697v1M1016.5 698v1M1022.5 700v1M1036.5 706v1M1040.5 707v1M1046.5 709v1M1060.5 715v1M1076.5 719v1M1088.5 722v1M1100.5 725v1M1120.5 730v1M1220.5 735v1M1226.5 736v1M1238.5 738v1M1264.5 743v1M1310.5 749v1M1322.5 750v1"/>
</g>
<g clip-path="url(#crsi)" shape-rendering="crispEdges">
<line x1="3" x2="1629" y1="801.5" y2="801.5" stroke="#c0c0c0" stroke-dasharray="3 3"/>
<line x1="3" x2="1629" y1="848.5" y2="848.5" stroke="#c0c0c0" stroke-dasharray="3 3"/>
<line x1="3" x2="1629" y1="904.5" y2="904.5" stroke="#c0c0c0" stroke-dasharray="3 3"/>
</g><g clip-path="url(#crsi)" shape-rendering="crispEdges">
<path fill="none" stroke="#1e90ff" stroke-width="1" d="M3 844.5h2M5 845.5h2M8 847.5h2M11 849.5h2M13 850.5h2M16 852.5h2M18 853.5h3M21 852.5h4M25 851.5h4M29 850.5h4M33 849.5h20M53 848.5h6M59 847.5h5M64 846.5h7M71 845.5h8M79 844.5h5M84 845.5h2M86 846.5h2M88 847.5h3M91 848.5h2M93 849.5h2M95 850.5h2M97 851.5h2M99 852.5h2M102 854.5h2M105 856.5h2M109 859.5h2M112 861.5h2M114 862.5h3M117 861.5h4M121 860.5h4M125 859.5h4M129 858.5h6M135 857.5h8M143 856.5h12M155 857.5h16M171 858.5h16M187 859.5h25M212 858.5h2M214 857.5h2M216 856.5h3M219 855.5h2M221 854.5h2M223 853.5h2M225 852.5h4M229 853.5h6M235 854.5h5M240 855.5h5M245 854.5h6M251 853.5h5M256 852.5h4M260 853.5h2M262 854.5h2M264 855.5h3M267 856.5h2M269 857.5h2M271 858.5h2M273 859.5h18M291 860.5h2M294 862.5h2M297 864.5h2M301 867.5h2M304 869.5h2M306 870.5h2M308 869.5h3M311 868.5h4M315 867.5h3M318 866.5h3M321 865.5h6M327 866.5h8M335 867.5h6M341 866.5h6M347 865.5h5M352 864.5h4M356 863.5h2M358 862.5h2M360 861.5h2M362 860.5h2M364 859.5h2M366 858.5h2M368 857.5h2M370 856.5h3M373 855.5h4M377 854.5h4M381 853.5h4M385 852.5h3M388 853.5h3M391 854.5h4M395 855.5h3M398 856.5h3M401 857.5h20M421 856.5h6M427 855.5h5M432 854.5h5M437 853.5h4M441 852.5h4M445 851.5h4M449 850.5h4M453 849.5h6M459 848.5h5M464 847.5h5M469 848.5h4M473 849.5h4M477 850.5h4M481 851.5h2M483 850.5h2M485 849.5h2M487 848.5h2M489 847.5h2M492 845.5h2M494 844.5h2M496 843.5h2M498 842.5h3M501 841.5h4M505 840.5h4M509 839.5h4M513 838.5h6M519 839.5h8M527 840.5h4M531 839.5h2M535 836.5h2M539 833.5h2M543 830.5h2M546 828.5h5M551 829.5h8M559 830.5h4M563 829.5h2M567 826.5h2M571 823.5h2M575 820.5h2M578 818.5h5M583 819.5h8M591 820.5h8M599 819.5h8M607 818.5h24M631 819.5h8M639 820.5h8M647 819.5h8M655 818.5h6M661 817.5h4M665 816.5h4M669 815.5h4M673 814.5h19M692 815.5h3M695 816.5h2M697 817.5h3M700 818.5h3M703 819.5h2M705 820.5h6M711 821.5h8M719 822.5h5M724 823.5h2M726 824.5h2M728 825.5h2M730 826.5h2M732 827.5h2M734 828.5h2M736 829.5h2M739 831.5h2M741 832.5h2M744 834.5h2M747 836.5h2M749 837.5h2M752 839.5h2M754 840.5h2M756 839.5h2M758 838.5h2M760 837.5h2M762 836.5h2M764 835.5h2M766 834.5h2M768 833.5h2M786 854.5h3M789 853.5h6M795 852.5h5M800 851.5h4M804 852.5h3M807 853.5h4M811 854.5h3M814 855.5h3M817 856.5h3M820 855.5h3M823 854.5h4M827 853.5h3M830 852.5h3M833 851.5h6M839 852.5h8M847 853.5h6M853 852.5h4M857 851.5h4M861 850.5h4M865 849.5h2M867 850.5h2M869 851.5h2M872 853.5h2M875 855.5h2M877 856.5h2M880 858.5h2M882 859.5h2M884 858.5h2M886 857.5h2M888 856.5h2M890 855.5h2M892 854.5h2M894 853.5h2M896 852.5h2M898 851.5h5M903 852.5h8M911 853.5h5M916 854.5h2M918 855.5h2M920 856.5h3M923 857.5h2M925 858.5h2M927 859.5h2M929 860.5h3M932 861.5h2M934 862.5h2M936 863.5h3M939 864.5h2M941 865.5h2M943 866.5h2M945 867.5h4M949 868.5h6M955 869.5h5M960 870.5h11M971 871.5h9M980 872.5h3M983 873.5h2M985 874.5h3M988 875.5h3M991 876.5h2M993 877.5h19M1012 876.5h3M1015 875.5h4M1019 874.5h3M1022 873.5h3M1025 872.5h22M1047 871.5h8M1055 870.5h6M1061 871.5h6M1067 872.5h5M1072 873.5h11M1083 874.5h16M1099 875.5h32M1131 876.5h24M1186 882.5h9M1195 883.5h26M1221 884.5h4M1225 885.5h4M1229 886.5h4M1233 887.5h18M1266 869.5h3M1269 870.5h6M1275 871.5h5M1280 872.5h11M1291 871.5h12M1303 872.5h8M1311 873.5h8M1319 872.5h8M1327 871.5h4M2.5 843v1M7.5 846v1M10.5 848v1M15.5 851v1M101.5 853v1M104.5 855v1M107.5 857v1M108.5 858v1M111.5 860v1M293.5 861v1M296.5 863v1M299.5 865v1M300.5 866v1M303.5 868v1M491.5 846v1M533.5 838v1M534.5 837v1M537.5 835v1M538.5 834v1M541.5 832v1M542.5 831v1M545.5 829v1M565.5 828v1M566.5 827v1M569.5 825v1M570.5 824v1M573.5 822v1M574.5 821v1M577.5 819v1M738.5 830v1M743.5 833v1M746.5 835v1M751.5 838v1M770.5 832v1M771.5 833v2M772.5 835v1M773.5 836v1M774.5 837v2M775.5 839v1M776.5 840v1M777.5 841v2M778.5 843v1M779.5 844v2M780.5 846v1M781.5 847v1M782.5 848v2M783.5 850v1M784.5 851v1M785.5 852v2M871.5 852v1M874.5 854v1M879.5 857v1M1155.5 874v2M1156.5 873v1M1157.5 872v1M1158.5 870v2M1159.5 869v1M1160.5 868v1M1161.5 866v2M1162.5 865v1M1163.5 863v2M1164.5 862v1M1165.5 861v1M1166.5 859v2M1167.5 858v1M1168.5 857v1M1169.5 855v2M1170.5 854v1M1171.5 855v2M1172.5 857v2M1173.5 859v2M1174.5 861v1M1175.5 862v2M1176.5 864v2M1177.5 866v2M1178.5 868v1M1179.5 869v2M1180.5 871v2M1181.5 873v2M1182.5 875v1M1183.5 876v2M1184.5 878v2M1185.5 880v2M1251.5 886v1M1252.5 885v1M1253.5 884v1M1254.5 882v2M1255.5 881v1M1256.5 880v1M1257.5 879v1M1258.5 878v1M1259.5 877v1M1260.5 876v1M1261.5 875v1M1262.5 873v2M1263.5 872v1M1264.5 871v1M1265.5 870v1"/>
</g>
<g shape-rendering="crispEdges" fill="#000">
<rect x="1" y="28" width="1629" height="1"/>
<rect x="1" y="581" width="1629" height="1"/>
<rect x="1" y="28" width="1" height="554"/>
<rect x="1629" y="28" width="1" height="554"/>
<rect x="1" y="583" width="1629" height="1"/>
<rect x="1" y="766" width="1629" height="1"/>
<rect x="1" y="583" width="1" height="184"/>
<rect x="1629" y="583" width="1" height="184"/>
<rect x="1" y="768" width="1629" height="1"/>
<rect x="1" y="928" width="1629" height="1"/>
<rect x="1" y="768" width="1" height="161"/>
<rect x="1629" y="768" width="1" height="161"/>
<rect x="1630" y="50" width="2" height="1"/>
<rect x="1630" y="83" width="2" height="1"/>
<rect x="1630" y="116" width="2" height="1"/>
<rect x="1630" y="149" width="2" height="1"/>
<rect x="1630" y="182" width="2" height="1"/>
<rect x="1630" y="215" width="2" height="1"/>
<rect x="1630" y="248" width="2" height="1"/>
<rect x="1630" y="281" width="2" height="1"/>
<rect x="1630" y="314" width="2" height="1"/>
<rect x="1630" y="347" width="2" height="1"/>
<rect x="1630" y="380" width="2" height="1"/>
<rect x="1630" y="413" width="2" height="1"/>
<rect x="1630" y="446" width="2" height="1"/>
<rect x="1630" y="479" width="2" height="1"/>
<rect x="1630" y="512" width="2" height="1"/>
<rect x="1630" y="545" width="2" height="1"/>
<rect x="1630" y="585" width="1" height="1"/>
<rect x="1630" y="683" width="1" height="1"/>
<rect x="1630" y="765" width="1" height="1"/>
<rect x="1630" y="770" width="1" height="1"/>
<rect x="1630" y="927" width="1" height="1"/>
<rect x="1629" y="801" width="1" height="1" fill="#fff"/>
<rect x="1629" y="848" width="1" height="1" fill="#fff"/>
<rect x="1629" y="904" width="1" height="1" fill="#fff"/>
<rect x="2" y="929" width="1" height="3"/>
<rect x="66" y="929" width="1" height="3"/>
<rect x="130" y="929" width="1" height="3"/>
<rect x="194" y="929" width="1" height="3"/>
<rect x="258" y="929" width="1" height="3"/>
<rect x="322" y="929" width="1" height="3"/>
<rect x="386" y="929" width="1" height="3"/>
<rect x="450" y="929" width="1" height="3"/>
<rect x="514" y="929" width="1" height="3"/>
<rect x="578" y="929" width="1" height="3"/>
<rect x="642" y="929" width="1" height="3"/>
<rect x="706" y="929" width="1" height="3"/>
<rect x="770" y="929" width="1" height="3"/>
<rect x="834" y="929" width="1" height="3"/>
<rect x="898" y="929" width="1" height="3"/>
<rect x="962" y="929" width="1" height="3"/>
<rect x="1026" y="929" width="1" height="3"/>
<rect x="1090" y="929" width="1" height="3"/>
<rect x="1154" y="929" width="1" height="3"/>
<rect x="1218" y="929" width="1" height="3"/>
<rect x="1282" y="929" width="1" height="3"/>
</g>
<g shape-rendering="crispEdges">
<rect x="2.5" y="384.5" width="4" height="4" fill="#fff" stroke="#ff0000"/>
<rect x="1624.5" y="384.5" width="4" height="4" fill="#fff" stroke="#ff0000"/>
<rect x="2.5" y="440.5" width="4" height="4" fill="#fff" stroke="#ff4500"/>
<rect x="1624.5" y="440.5" width="4" height="4" fill="#fff" stroke="#ff4500"/>
<rect x="2.5" y="541.5" width="4" height="4" fill="#fff" stroke="#0000ff"/>
<rect x="1624.5" y="541.5" width="4" height="4" fill="#fff" stroke="#0000ff"/>
<rect x="2.5" y="578.5" width="4" height="4" fill="#fff" stroke="#0000ff"/>
<rect x="1624.5" y="578.5" width="4" height="4" fill="#fff" stroke="#0000ff"/>
</g>
<g shape-rendering="crispEdges" fill="#c0c0c0"><rect x="1363" y="29" width="9" height="1"/><rect x="1364" y="30" width="7" height="1"/><rect x="1365" y="31" width="5" height="1"/><rect x="1366" y="32" width="3" height="1"/><rect x="1367" y="33" width="1" height="1"/></g>
<rect x="1675" y="24" width="1" height="921" fill="#e2e2e2"/>
<text transform="translate(1635.0,53.6) scale(0.945,1)" font-size="9.8" fill="#000" stroke="#000" stroke-width="0.15" xml:space="preserve" text-rendering="geometricPrecision" style="font-family:'Liberation Sans', sans-serif">147.025</text>
<text transform="translate(1635.0,86.6) scale(0.945,1)" font-size="9.8" fill="#000" stroke="#000" stroke-width="0.15" xml:space="preserve" text-rendering="geometricPrecision" style="font-family:'Liberation Sans', sans-serif">146.855</text>
<text transform="translate(1635.0,119.6) scale(0.945,1)" font-size="9.8" fill="#000" stroke="#000" stroke-width="0.15" xml:space="preserve" text-rendering="geometricPrecision" style="font-family:'Liberation Sans', sans-serif">146.690</text>
<text transform="translate(1635.0,152.6) scale(0.945,1)" font-size="9.8" fill="#000" stroke="#000" stroke-width="0.15" xml:space="preserve" text-rendering="geometricPrecision" style="font-family:'Liberation Sans', sans-serif">146.520</text>
<text transform="translate(1635.0,185.6) scale(0.945,1)" font-size="9.8" fill="#000" stroke="#000" stroke-width="0.15" xml:space="preserve" text-rendering="geometricPrecision" style="font-family:'Liberation Sans', sans-serif">146.350</text>
<text transform="translate(1635.0,218.6) scale(0.945,1)" font-size="9.8" fill="#000" stroke="#000" stroke-width="0.15" xml:space="preserve" text-rendering="geometricPrecision" style="font-family:'Liberation Sans', sans-serif">146.185</text>
<text transform="translate(1635.0,251.6) scale(0.945,1)" font-size="9.8" fill="#000" stroke="#000" stroke-width="0.15" xml:space="preserve" text-rendering="geometricPrecision" style="font-family:'Liberation Sans', sans-serif">146.015</text>
<text transform="translate(1635.0,284.6) scale(0.945,1)" font-size="9.8" fill="#000" stroke="#000" stroke-width="0.15" xml:space="preserve" text-rendering="geometricPrecision" style="font-family:'Liberation Sans', sans-serif">145.845</text>
<text transform="translate(1635.0,317.6) scale(0.945,1)" font-size="9.8" fill="#000" stroke="#000" stroke-width="0.15" xml:space="preserve" text-rendering="geometricPrecision" style="font-family:'Liberation Sans', sans-serif">145.680</text>
<text transform="translate(1635.0,350.6) scale(0.945,1)" font-size="9.8" fill="#000" stroke="#000" stroke-width="0.15" xml:space="preserve" text-rendering="geometricPrecision" style="font-family:'Liberation Sans', sans-serif">145.510</text>
<text transform="translate(1635.0,383.6) scale(0.945,1)" font-size="9.8" fill="#000" stroke="#000" stroke-width="0.15" xml:space="preserve" text-rendering="geometricPrecision" style="font-family:'Liberation Sans', sans-serif">145.340</text>
<text transform="translate(1635.0,416.6) scale(0.945,1)" font-size="9.8" fill="#000" stroke="#000" stroke-width="0.15" xml:space="preserve" text-rendering="geometricPrecision" style="font-family:'Liberation Sans', sans-serif">145.175</text>
<text transform="translate(1635.0,449.6) scale(0.945,1)" font-size="9.8" fill="#000" stroke="#000" stroke-width="0.15" xml:space="preserve" text-rendering="geometricPrecision" style="font-family:'Liberation Sans', sans-serif">145.005</text>
<text transform="translate(1635.0,482.6) scale(0.945,1)" font-size="9.8" fill="#000" stroke="#000" stroke-width="0.15" xml:space="preserve" text-rendering="geometricPrecision" style="font-family:'Liberation Sans', sans-serif">144.840</text>
<text transform="translate(1635.0,515.6) scale(0.945,1)" font-size="9.8" fill="#000" stroke="#000" stroke-width="0.15" xml:space="preserve" text-rendering="geometricPrecision" style="font-family:'Liberation Sans', sans-serif">144.670</text>
<text transform="translate(1635.0,548.6) scale(0.945,1)" font-size="9.8" fill="#000" stroke="#000" stroke-width="0.15" xml:space="preserve" text-rendering="geometricPrecision" style="font-family:'Liberation Sans', sans-serif">144.500</text>
<text transform="translate(1633.0,594.4) scale(0.945,1)" font-size="9.8" fill="#000" stroke="#000" stroke-width="0.15" xml:space="preserve" text-rendering="geometricPrecision" style="font-family:'Liberation Sans', sans-serif">0.4204</text>
<text transform="translate(1633.0,687.0) scale(0.945,1)" font-size="9.8" fill="#000" stroke="#000" stroke-width="0.15" xml:space="preserve" text-rendering="geometricPrecision" style="font-family:'Liberation Sans', sans-serif">0.00</text>
<text transform="translate(1633.0,763.0) scale(0.945,1)" font-size="9.8" fill="#000" stroke="#000" stroke-width="0.15" xml:space="preserve" text-rendering="geometricPrecision" style="font-family:'Liberation Sans', sans-serif">-0.354</text>
<text transform="translate(1633.0,779.4) scale(0.945,1)" font-size="9.8" fill="#000" stroke="#000" stroke-width="0.15" xml:space="preserve" text-rendering="geometricPrecision" style="font-family:'Liberation Sans', sans-serif">100</text>
<text transform="translate(1632.5,805.4) scale(0.945,1)" font-size="9.8" fill="#000" stroke="#000" stroke-width="0.15" xml:space="preserve" text-rendering="geometricPrecision" style="font-family:'Liberation Sans', sans-serif">80</text>
<text transform="translate(1632.5,852.4) scale(0.945,1)" font-size="9.8" fill="#000" stroke="#000" stroke-width="0.15" xml:space="preserve" text-rendering="geometricPrecision" style="font-family:'Liberation Sans', sans-serif">50</text>
<text transform="translate(1632.5,908.4) scale(0.945,1)" font-size="9.8" fill="#000" stroke="#000" stroke-width="0.15" xml:space="preserve" text-rendering="geometricPrecision" style="font-family:'Liberation Sans', sans-serif">15</text>
<text transform="translate(1633.0,925.4) scale(0.945,1)" font-size="9.8" fill="#000" stroke="#000" stroke-width="0.15" xml:space="preserve" text-rendering="geometricPrecision" style="font-family:'Liberation Sans', sans-serif">0</text>
<text transform="translate(1.0,941.0) scale(0.985,1)" font-size="9.8" fill="#000" stroke="#000" stroke-width="0.15" xml:space="preserve" text-rendering="geometricPrecision" style="font-family:'Liberation Sans', sans-serif">4 Apr 2019</text>
<text transform="translate(65.0,941.0) scale(0.985,1)" font-size="9.8" fill="#000" stroke="#000" stroke-width="0.15" xml:space="preserve" text-rendering="geometricPrecision" style="font-family:'Liberation Sans', sans-serif">5 Apr 00:00</text>
<text transform="translate(129.0,941.0) scale(0.985,1)" font-size="9.8" fill="#000" stroke="#000" stroke-width="0.15" xml:space="preserve" text-rendering="geometricPrecision" style="font-family:'Liberation Sans', sans-serif">5 Apr 16:00</text>
<text transform="translate(193.0,941.0) scale(0.985,1)" font-size="9.8" fill="#000" stroke="#000" stroke-width="0.15" xml:space="preserve" text-rendering="geometricPrecision" style="font-family:'Liberation Sans', sans-serif">8 Apr 08:00</text>
<text transform="translate(257.0,941.0) scale(0.985,1)" font-size="9.8" fill="#000" stroke="#000" stroke-width="0.15" xml:space="preserve" text-rendering="geometricPrecision" style="font-family:'Liberation Sans', sans-serif">9 Apr 00:00</text>
<text transform="translate(321.0,941.0) scale(0.985,1)" font-size="9.8" fill="#000" stroke="#000" stroke-width="0.15" xml:space="preserve" text-rendering="geometricPrecision" style="font-family:'Liberation Sans', sans-serif">9 Apr 16:00</text>
<text transform="translate(385.0,941.0) scale(0.985,1)" font-size="9.8" fill="#000" stroke="#000" stroke-width="0.15" xml:space="preserve" text-rendering="geometricPrecision" style="font-family:'Liberation Sans', sans-serif">10 Apr 08:00</text>
<text transform="translate(449.0,941.0) scale(0.985,1)" font-size="9.8" fill="#000" stroke="#000" stroke-width="0.15" xml:space="preserve" text-rendering="geometricPrecision" style="font-family:'Liberation Sans', sans-serif">11 Apr 00:00</text>
<text transform="translate(513.0,941.0) scale(0.985,1)" font-size="9.8" fill="#000" stroke="#000" stroke-width="0.15" xml:space="preserve" text-rendering="geometricPrecision" style="font-family:'Liberation Sans', sans-serif">11 Apr 16:00</text>
<text transform="translate(577.0,941.0) scale(0.985,1)" font-size="9.8" fill="#000" stroke="#000" stroke-width="0.15" xml:space="preserve" text-rendering="geometricPrecision" style="font-family:'Liberation Sans', sans-serif">12 Apr 08:00</text>
<text transform="translate(641.0,941.0) scale(0.985,1)" font-size="9.8" fill="#000" stroke="#000" stroke-width="0.15" xml:space="preserve" text-rendering="geometricPrecision" style="font-family:'Liberation Sans', sans-serif">15 Apr 00:00</text>
<text transform="translate(705.0,941.0) scale(0.985,1)" font-size="9.8" fill="#000" stroke="#000" stroke-width="0.15" xml:space="preserve" text-rendering="geometricPrecision" style="font-family:'Liberation Sans', sans-serif">15 Apr 16:00</text>
<text transform="translate(769.0,941.0) scale(0.985,1)" font-size="9.8" fill="#000" stroke="#000" stroke-width="0.15" xml:space="preserve" text-rendering="geometricPrecision" style="font-family:'Liberation Sans', sans-serif">16 Apr 08:00</text>
<text transform="translate(833.0,941.0) scale(0.985,1)" font-size="9.8" fill="#000" stroke="#000" stroke-width="0.15" xml:space="preserve" text-rendering="geometricPrecision" style="font-family:'Liberation Sans', sans-serif">17 Apr 00:00</text>
<text transform="translate(897.0,941.0) scale(0.985,1)" font-size="9.8" fill="#000" stroke="#000" stroke-width="0.15" xml:space="preserve" text-rendering="geometricPrecision" style="font-family:'Liberation Sans', sans-serif">17 Apr 16:00</text>
<text transform="translate(961.0,941.0) scale(0.985,1)" font-size="9.8" fill="#000" stroke="#000" stroke-width="0.15" xml:space="preserve" text-rendering="geometricPrecision" style="font-family:'Liberation Sans', sans-serif">18 Apr 08:00</text>
<text transform="translate(1025.0,941.0) scale(0.985,1)" font-size="9.8" fill="#000" stroke="#000" stroke-width="0.15" xml:space="preserve" text-rendering="geometricPrecision" style="font-family:'Liberation Sans', sans-serif">21 Apr 23:00</text>
<text transform="translate(1089.0,941.0) scale(0.985,1)" font-size="9.8" fill="#000" stroke="#000" stroke-width="0.15" xml:space="preserve" text-rendering="geometricPrecision" style="font-family:'Liberation Sans', sans-serif">22 Apr 12:00</text>
<text transform="translate(1153.0,941.0) scale(0.985,1)" font-size="9.8" fill="#000" stroke="#000" stroke-width="0.15" xml:space="preserve" text-rendering="geometricPrecision" style="font-family:'Liberation Sans', sans-serif">23 Apr 04:00</text>
<text transform="translate(1217.0,941.0) scale(0.985,1)" font-size="9.8" fill="#000" stroke="#000" stroke-width="0.15" xml:space="preserve" text-rendering="geometricPrecision" style="font-family:'Liberation Sans', sans-serif">23 Apr 20:00</text>
<text transform="translate(1281.0,941.0) scale(0.985,1)" font-size="9.8" fill="#000" stroke="#000" stroke-width="0.15" xml:space="preserve" text-rendering="geometricPrecision" style="font-family:'Liberation Sans', sans-serif">24 Apr 12:00</text>
<text transform="translate(16.8,40.3) scale(0.945,1)" font-size="9.8" fill="#000" stroke="#000" stroke-width="0.15" xml:space="preserve" text-rendering="geometricPrecision" style="font-family:'Liberation Sans', sans-serif">GBPJPY-,H4  144.708 144.750 144.690 144.734</text>
<text transform="translate(6.3,596.3) scale(0.945,1)" font-size="9.8" fill="#000" stroke="#000" stroke-width="0.15" xml:space="preserve" text-rendering="geometricPrecision" style="font-family:'Liberation Sans', sans-serif">MACD(12,26,9) -0.2759 -0.2906</text>
<text transform="translate(6.3,781.3) scale(0.945,1)" font-size="9.8" fill="#000" stroke="#000" stroke-width="0.15" xml:space="preserve" text-rendering="geometricPrecision" style="font-family:'Liberation Sans', sans-serif">RSI(14) 35.6142</text>
<path d="M5 39.5 L8.5 35 L12 39.5 Z" fill="#000"/>
<rect x="1631" y="380" width="41" height="11" fill="#ff0000" shape-rendering="crispEdges"/>
<text transform="translate(1635.0,389.1) scale(0.945,1)" font-size="9.8" fill="#fff" stroke="#fff" stroke-width="0.15" xml:space="preserve" text-rendering="geometricPrecision" style="font-family:'Liberation Sans', sans-serif">145.314</text>
<rect x="1631" y="436" width="41" height="11" fill="#ff4500" shape-rendering="crispEdges"/>
<text transform="translate(1635.0,445.1) scale(0.945,1)" font-size="9.8" fill="#fff" stroke="#fff" stroke-width="0.15" xml:space="preserve" text-rendering="geometricPrecision" style="font-family:'Liberation Sans', sans-serif">145.025</text>
<rect x="1631" y="463" width="41" height="11" fill="#32cd32" shape-rendering="crispEdges"/>
<text transform="translate(1635.0,472.1) scale(0.945,1)" font-size="9.8" fill="#fff" stroke="#fff" stroke-width="0.15" xml:space="preserve" text-rendering="geometricPrecision" style="font-family:'Liberation Sans', sans-serif">144.887</text>
<rect x="1631" y="494" width="41" height="11" fill="#000000" shape-rendering="crispEdges"/>
<text transform="translate(1635.0,503.1) scale(0.945,1)" font-size="9.8" fill="#fff" stroke="#fff" stroke-width="0.15" xml:space="preserve" text-rendering="geometricPrecision" style="font-family:'Liberation Sans', sans-serif">144.734</text>
<rect x="1631" y="537" width="41" height="11" fill="#0000ff" shape-rendering="crispEdges"/>
<text transform="translate(1635.0,546.1) scale(0.945,1)" font-size="9.8" fill="#fff" stroke="#fff" stroke-width="0.15" xml:space="preserve" text-rendering="geometricPrecision" style="font-family:'Liberation Sans', sans-serif">144.509</text>
<rect x="1631" y="574" width="41" height="11" fill="#0000ff" shape-rendering="crispEdges"/>
<text transform="translate(1635.0,583.1) scale(0.945,1)" font-size="9.8" fill="#fff" stroke="#fff" stroke-width="0.15" xml:space="preserve" text-rendering="geometricPrecision" style="font-family:'Liberation Sans', sans-serif">144.323</text></svg>
<div id="tp">
<div class="big" style="left:5px;width:109px"></div>
<div class="big" style="left:116px;width:108px"></div>
<div style="left:57px;top:70px;width:115px;height:2px;background:#fff"></div>
<div style="left:57px;top:72px;width:57px;height:1px;background:#0404b0"></div>
<div style="left:116px;top:72px;width:56px;height:1px;background:#0404b0"></div>
<div class="tab" style="left:5px;width:52px"></div>
<div class="tab" style="left:172px;width:52px"></div>
<div class="ul" style="left:9px;width:44px"></div>
<div class="ul" style="left:176px;width:44px"></div>
<div class="inp"></div>
<div class="btn" style="left:59px"></div>
<div class="btn" style="left:148px"></div>
<svg width="230" height="114" style="position:absolute;left:0;top:0"><path d="M66.500 57 h6 l-3 3.500 z M155.500 60.500 h6 l-3 -3.500 z" fill="#000" transform="translate(0,0)"/></svg>
<div class="w" style="left:17.300px;top:53.500px;font-size:12.500px;transform:scaleX(0.865)">SELL</div>
<div class="w" style="left:185px;top:53.500px;font-size:12.500px;transform:scaleX(0.955)">BUY</div>
<div class="w" style="left:121.300px;top:53px;font-size:12px;color:#000">1.00</div>
<div class="w" style="left:28.500px;top:92.500px;font-size:12.300px;font-weight:bold">144</div>
<div class="w" style="left:138.500px;top:92.500px;font-size:12.300px;font-weight:bold">144</div>
<div class="w" style="left:52.200px;top:73.800px;font-size:33.500px;transform:scaleX(0.945)">73</div>
<div class="w" style="left:163.200px;top:73.800px;font-size:33.500px;transform:scaleX(0.975)">78</div>
<div class="w" style="left:92px;top:76.500px;font-size:12.500px;font-weight:bold">4</div>
<div class="w" style="left:203.500px;top:76.500px;font-size:12.500px;font-weight:bold">3</div>
</div>
</body></html>
